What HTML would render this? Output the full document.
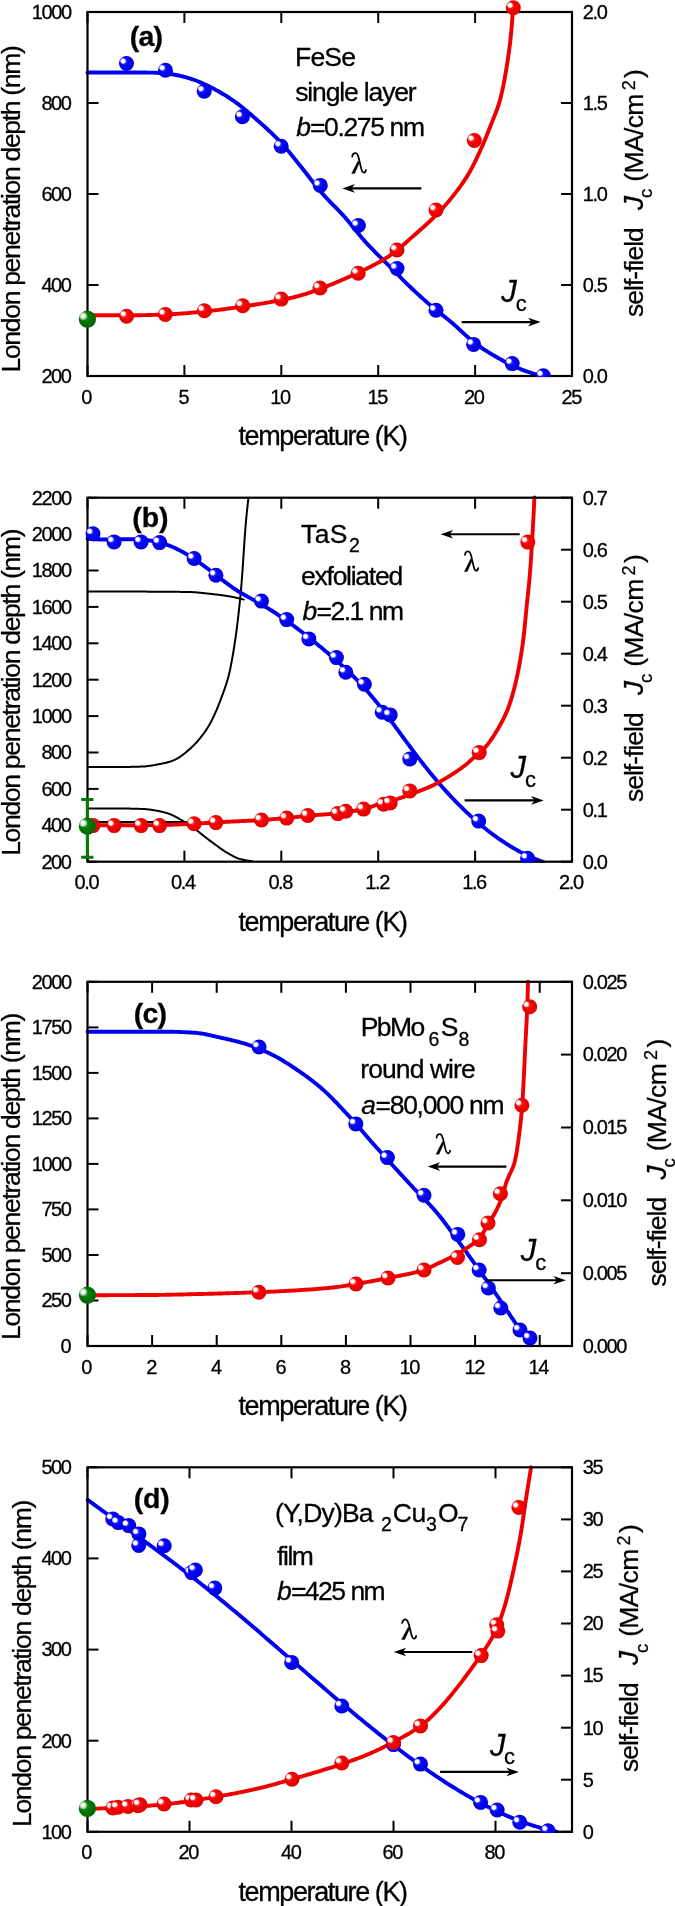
<!DOCTYPE html>
<html><head><meta charset="utf-8"><style>
html,body{margin:0;padding:0;background:#fff;}
svg{display:block;will-change:transform;}
svg text{fill:#000;stroke:#000;stroke-width:0.3px;}
</style></head><body>
<svg width="675" height="1906" viewBox="0 0 675 1906" font-family="Liberation Sans, sans-serif">
<defs>
<radialGradient id="gb" cx="0.5" cy="0.5" r="0.5" fx="0.3" fy="0.33">
 <stop offset="0" stop-color="#5050ff"/><stop offset="0.45" stop-color="#0808f4"/><stop offset="1" stop-color="#0000e0"/></radialGradient>
<radialGradient id="gr" cx="0.5" cy="0.5" r="0.5" fx="0.3" fy="0.33">
 <stop offset="0" stop-color="#ff5050"/><stop offset="0.45" stop-color="#f40808"/><stop offset="1" stop-color="#e20000"/></radialGradient>
<radialGradient id="gg" cx="0.5" cy="0.5" r="0.5" fx="0.3" fy="0.33">
 <stop offset="0" stop-color="#40a040"/><stop offset="0.45" stop-color="#0a780a"/><stop offset="1" stop-color="#006600"/></radialGradient>
<radialGradient id="hlb"><stop offset="0" stop-color="#fff"/><stop offset="0.5" stop-color="#fff"/><stop offset="0.75" stop-color="#fff" stop-opacity="0.55"/><stop offset="1" stop-color="#fff" stop-opacity="0"/></radialGradient>
<radialGradient id="hlr"><stop offset="0" stop-color="#fff"/><stop offset="0.5" stop-color="#fff"/><stop offset="0.75" stop-color="#fff" stop-opacity="0.55"/><stop offset="1" stop-color="#fff" stop-opacity="0"/></radialGradient>
<radialGradient id="hlg"><stop offset="0" stop-color="#fff"/><stop offset="0.35" stop-color="#f4fff4"/><stop offset="0.7" stop-color="#c8e8c8" stop-opacity="0.7"/><stop offset="1" stop-color="#fff" stop-opacity="0"/></radialGradient>
</defs>
<defs><clipPath id="cla"><rect x="-10" y="-28" width="700" height="405.1"/></clipPath></defs>
<g clip-path="url(#cla)">
<path d="M87.50,72.50 L88.93,72.50 L90.36,72.50 L91.78,72.50 L93.21,72.50 L94.64,72.50 L96.07,72.50 L97.49,72.50 L98.92,72.50 L100.35,72.50 L101.78,72.50 L103.21,72.50 L104.63,72.50 L106.06,72.50 L107.49,72.50 L108.92,72.50 L110.34,72.50 L111.77,72.50 L113.20,72.50 L114.63,72.50 L116.05,72.50 L117.48,72.50 L118.91,72.50 L120.34,72.50 L121.77,72.50 L123.19,72.50 L124.62,72.50 L126.05,72.50 L127.48,72.50 L128.90,72.50 L130.33,72.50 L131.76,72.50 L133.19,72.50 L134.62,72.51 L136.04,72.51 L137.47,72.51 L138.90,72.52 L140.33,72.53 L141.76,72.54 L143.18,72.54 L144.61,72.55 L146.04,72.57 L147.47,72.58 L148.89,72.59 L150.32,72.60 L151.75,72.63 L153.18,72.67 L154.60,72.72 L156.03,72.78 L157.46,72.85 L158.89,72.93 L160.31,73.02 L161.73,73.11 L163.16,73.21 L164.58,73.33 L166.00,73.47 L167.42,73.64 L168.84,73.82 L170.25,74.03 L171.67,74.25 L173.08,74.48 L174.48,74.71 L175.88,74.96 L177.28,75.22 L178.68,75.51 L180.08,75.82 L181.48,76.15 L182.87,76.49 L184.26,76.85 L185.64,77.23 L187.01,77.61 L188.38,78.01 L189.74,78.42 L191.10,78.84 L192.45,79.29 L193.79,79.77 L195.13,80.26 L196.47,80.78 L197.80,81.31 L199.13,81.86 L200.45,82.42 L201.76,82.99 L203.07,83.58 L204.37,84.17 L205.66,84.78 L206.95,85.38 L208.23,85.99 L209.51,86.62 L210.78,87.25 L212.05,87.90 L213.32,88.56 L214.58,89.23 L215.84,89.91 L217.10,90.60 L218.35,91.31 L219.60,92.02 L220.84,92.74 L222.08,93.47 L223.31,94.21 L224.53,94.95 L225.75,95.71 L226.96,96.47 L228.17,97.24 L229.36,98.01 L230.56,98.79 L231.74,99.58 L232.91,100.37 L234.08,101.17 L235.24,101.99 L236.39,102.82 L237.54,103.67 L238.67,104.53 L239.80,105.40 L240.93,106.28 L242.05,107.17 L243.16,108.07 L244.27,108.97 L245.38,109.89 L246.48,110.81 L247.57,111.73 L248.66,112.66 L249.75,113.60 L250.84,114.53 L251.92,115.47 L253.00,116.41 L254.08,117.35 L255.15,118.28 L256.22,119.22 L257.30,120.16 L258.37,121.10 L259.44,122.05 L260.51,122.99 L261.58,123.94 L262.64,124.90 L263.71,125.86 L264.77,126.82 L265.82,127.79 L266.88,128.76 L267.93,129.73 L268.97,130.71 L270.02,131.69 L271.05,132.67 L272.08,133.66 L273.11,134.66 L274.13,135.66 L275.15,136.66 L276.16,137.67 L277.16,138.68 L278.16,139.70 L279.15,140.73 L280.13,141.75 L281.10,142.79 L282.07,143.83 L283.03,144.88 L283.97,145.94 L284.91,147.01 L285.85,148.09 L286.77,149.18 L287.69,150.27 L288.60,151.37 L289.51,152.47 L290.42,153.58 L291.32,154.69 L292.22,155.80 L293.11,156.92 L294.01,158.04 L294.90,159.15 L295.79,160.27 L296.69,161.39 L297.58,162.51 L298.48,163.62 L299.37,164.73 L300.28,165.84 L301.17,166.95 L302.07,168.06 L302.96,169.18 L303.84,170.30 L304.72,171.43 L305.60,172.55 L306.48,173.68 L307.36,174.81 L308.23,175.94 L309.11,177.07 L309.99,178.20 L310.86,179.33 L311.74,180.46 L312.62,181.58 L313.50,182.71 L314.39,183.83 L315.27,184.95 L316.17,186.06 L317.06,187.17 L317.96,188.28 L318.87,189.38 L319.78,190.47 L320.70,191.56 L321.63,192.64 L322.56,193.72 L323.51,194.78 L324.46,195.84 L325.43,196.89 L326.40,197.93 L327.38,198.97 L328.36,200.00 L329.36,201.03 L330.35,202.06 L331.35,203.08 L332.35,204.10 L333.35,205.12 L334.36,206.14 L335.36,207.16 L336.36,208.18 L337.36,209.20 L338.35,210.23 L339.35,211.26 L340.33,212.29 L341.31,213.33 L342.29,214.37 L343.25,215.43 L344.21,216.48 L345.15,217.55 L346.09,218.62 L347.02,219.71 L347.95,220.79 L348.87,221.89 L349.78,222.99 L350.69,224.09 L351.59,225.19 L352.49,226.30 L353.39,227.41 L354.29,228.53 L355.19,229.64 L356.09,230.75 L356.99,231.86 L357.89,232.97 L358.79,234.08 L359.70,235.18 L360.61,236.28 L361.53,237.38 L362.45,238.47 L363.38,239.55 L364.31,240.63 L365.25,241.70 L366.21,242.76 L367.17,243.81 L368.14,244.85 L369.11,245.89 L370.09,246.92 L371.08,247.95 L372.08,248.97 L373.08,249.99 L374.09,251.00 L375.10,252.01 L376.11,253.02 L377.12,254.02 L378.14,255.03 L379.16,256.03 L380.19,257.03 L381.21,258.03 L382.23,259.02 L383.25,260.02 L384.27,261.02 L385.29,262.02 L386.31,263.03 L387.33,264.03 L388.34,265.04 L389.35,266.05 L390.36,267.06 L391.36,268.08 L392.36,269.09 L393.37,270.11 L394.37,271.13 L395.37,272.15 L396.37,273.17 L397.37,274.19 L398.37,275.20 L399.38,276.22 L400.38,277.24 L401.38,278.25 L402.39,279.27 L403.40,280.28 L404.41,281.29 L405.42,282.29 L406.44,283.29 L407.46,284.29 L408.48,285.29 L409.51,286.28 L410.54,287.27 L411.57,288.25 L412.61,289.23 L413.65,290.21 L414.69,291.18 L415.73,292.16 L416.78,293.13 L417.83,294.10 L418.88,295.07 L419.93,296.03 L420.99,296.99 L422.05,297.95 L423.11,298.91 L424.17,299.86 L425.24,300.82 L426.31,301.76 L427.38,302.71 L428.46,303.65 L429.53,304.58 L430.62,305.51 L431.70,306.44 L432.79,307.37 L433.88,308.28 L434.98,309.19 L436.08,310.09 L437.20,310.99 L438.32,311.87 L439.44,312.75 L440.56,313.63 L441.69,314.51 L442.82,315.39 L443.95,316.26 L445.07,317.14 L446.20,318.03 L447.32,318.92 L448.43,319.81 L449.53,320.71 L450.63,321.63 L451.72,322.55 L452.80,323.49 L453.87,324.43 L454.94,325.38 L456.01,326.34 L457.07,327.31 L458.12,328.28 L459.18,329.25 L460.23,330.22 L461.28,331.20 L462.33,332.17 L463.39,333.15 L464.44,334.12 L465.50,335.08 L466.56,336.04 L467.63,336.99 L468.70,337.93 L469.78,338.87 L470.86,339.79 L471.95,340.70 L473.06,341.60 L474.17,342.48 L475.29,343.35 L476.42,344.19 L477.56,345.03 L478.72,345.85 L479.88,346.67 L481.06,347.47 L482.24,348.27 L483.43,349.06 L484.63,349.84 L485.83,350.61 L487.04,351.37 L488.26,352.13 L489.48,352.88 L490.71,353.62 L491.94,354.36 L493.17,355.09 L494.41,355.81 L495.65,356.53 L496.89,357.24 L498.13,357.95 L499.37,358.65 L500.62,359.34 L501.86,360.04 L503.11,360.73 L504.37,361.41 L505.63,362.09 L506.89,362.76 L508.16,363.42 L509.44,364.08 L510.72,364.72 L512.00,365.35 L513.29,365.96 L514.58,366.56 L515.88,367.14 L517.19,367.71 L518.50,368.26 L519.82,368.80 L521.15,369.32 L522.48,369.83 L523.82,370.33 L525.17,370.82 L526.51,371.30 L527.86,371.77 L529.22,372.24 L530.57,372.69 L531.92,373.14 L533.28,373.57 L534.64,374.00 L536.01,374.42 L537.38,374.83 L538.75,375.23 L540.12,375.62 L541.50,376.00" fill="none" stroke="#0000f0" stroke-width="3.9" stroke-linejoin="round" stroke-linecap="round"/>
<path d="M87.50,315.30 L88.99,315.30 L90.49,315.30 L91.98,315.30 L93.48,315.30 L94.97,315.30 L96.46,315.30 L97.96,315.30 L99.45,315.30 L100.94,315.30 L102.44,315.30 L103.93,315.30 L105.42,315.30 L106.92,315.30 L108.41,315.30 L109.91,315.30 L111.40,315.30 L112.89,315.30 L114.39,315.30 L115.88,315.30 L117.37,315.30 L118.87,315.30 L120.36,315.30 L121.85,315.30 L123.35,315.30 L124.84,315.30 L126.33,315.30 L127.83,315.30 L129.32,315.30 L130.81,315.30 L132.31,315.29 L133.80,315.29 L135.29,315.27 L136.79,315.26 L138.28,315.24 L139.78,315.22 L141.27,315.19 L142.76,315.16 L144.26,315.13 L145.75,315.10 L147.25,315.06 L148.74,315.02 L150.23,314.98 L151.73,314.94 L153.22,314.89 L154.71,314.85 L156.20,314.80 L157.70,314.75 L159.19,314.70 L160.68,314.65 L162.17,314.60 L163.67,314.55 L165.16,314.49 L166.65,314.44 L168.14,314.38 L169.63,314.31 L171.12,314.23 L172.61,314.15 L174.10,314.06 L175.60,313.97 L177.09,313.87 L178.58,313.77 L180.07,313.66 L181.56,313.55 L183.05,313.44 L184.54,313.32 L186.03,313.19 L187.52,313.07 L189.01,312.94 L190.50,312.81 L191.98,312.67 L193.47,312.54 L194.96,312.40 L196.45,312.26 L197.93,312.12 L199.42,311.98 L200.91,311.84 L202.39,311.69 L203.88,311.55 L205.36,311.41 L206.85,311.26 L208.33,311.10 L209.82,310.94 L211.30,310.77 L212.79,310.60 L214.27,310.43 L215.75,310.25 L217.23,310.07 L218.72,309.88 L220.20,309.69 L221.68,309.49 L223.16,309.30 L224.64,309.10 L226.12,308.89 L227.60,308.69 L229.08,308.48 L230.56,308.27 L232.04,308.06 L233.52,307.84 L235.00,307.63 L236.48,307.41 L237.96,307.20 L239.43,306.98 L240.91,306.76 L242.39,306.55 L243.87,306.33 L245.34,306.11 L246.82,305.89 L248.30,305.67 L249.77,305.44 L251.25,305.22 L252.73,304.99 L254.20,304.76 L255.68,304.53 L257.16,304.29 L258.63,304.06 L260.11,303.82 L261.58,303.57 L263.06,303.33 L264.53,303.08 L266.01,302.83 L267.48,302.58 L268.95,302.32 L270.42,302.06 L271.89,301.79 L273.36,301.52 L274.83,301.25 L276.29,300.98 L277.76,300.70 L279.22,300.41 L280.69,300.12 L282.15,299.83 L283.61,299.53 L285.08,299.22 L286.54,298.91 L288.00,298.59 L289.46,298.26 L290.92,297.93 L292.38,297.58 L293.83,297.23 L295.28,296.86 L296.72,296.49 L298.16,296.11 L299.60,295.71 L301.03,295.31 L302.45,294.89 L303.88,294.46 L305.30,294.03 L306.72,293.58 L308.14,293.12 L309.56,292.66 L310.98,292.18 L312.39,291.70 L313.80,291.20 L315.21,290.70 L316.62,290.19 L318.03,289.68 L319.43,289.15 L320.84,288.63 L322.24,288.09 L323.63,287.55 L325.03,287.00 L326.42,286.45 L327.81,285.89 L329.20,285.32 L330.59,284.76 L331.98,284.19 L333.36,283.61 L334.74,283.03 L336.12,282.45 L337.50,281.87 L338.87,281.28 L340.24,280.70 L341.61,280.11 L342.98,279.52 L344.34,278.92 L345.71,278.33 L347.07,277.73 L348.44,277.13 L349.81,276.53 L351.18,275.92 L352.55,275.31 L353.92,274.70 L355.29,274.08 L356.66,273.45 L358.03,272.83 L359.39,272.19 L360.76,271.55 L362.12,270.91 L363.48,270.26 L364.84,269.60 L366.19,268.94 L367.54,268.27 L368.88,267.60 L370.22,266.92 L371.56,266.23 L372.89,265.54 L374.21,264.84 L375.53,264.13 L376.84,263.41 L378.15,262.69 L379.45,261.95 L380.74,261.21 L382.02,260.47 L383.29,259.71 L384.56,258.94 L385.82,258.17 L387.06,257.38 L388.30,256.59 L389.53,255.79 L390.74,254.96 L391.95,254.11 L393.14,253.23 L394.32,252.34 L395.50,251.43 L396.67,250.50 L397.83,249.56 L398.98,248.61 L400.12,247.64 L401.27,246.66 L402.40,245.67 L403.53,244.68 L404.66,243.68 L405.79,242.68 L406.91,241.68 L408.03,240.67 L409.15,239.67 L410.27,238.67 L411.39,237.67 L412.52,236.68 L413.64,235.70 L414.77,234.72 L415.90,233.74 L417.02,232.76 L418.15,231.78 L419.27,230.79 L420.40,229.80 L421.52,228.81 L422.64,227.82 L423.76,226.82 L424.87,225.82 L425.98,224.82 L427.08,223.81 L428.18,222.79 L429.27,221.77 L430.36,220.75 L431.44,219.72 L432.51,218.68 L433.57,217.64 L434.63,216.59 L435.67,215.53 L436.71,214.46 L437.75,213.39 L438.78,212.31 L439.80,211.22 L440.83,210.13 L441.84,209.03 L442.85,207.93 L443.86,206.81 L444.85,205.70 L445.84,204.57 L446.83,203.44 L447.80,202.31 L448.77,201.17 L449.73,200.02 L450.68,198.87 L451.62,197.71 L452.55,196.55 L453.47,195.38 L454.39,194.21 L455.30,193.03 L456.21,191.84 L457.12,190.65 L458.02,189.46 L458.91,188.25 L459.80,187.04 L460.68,185.83 L461.55,184.61 L462.41,183.38 L463.27,182.15 L464.11,180.91 L464.94,179.66 L465.75,178.41 L466.55,177.15 L467.34,175.89 L468.12,174.62 L468.87,173.34 L469.62,172.06 L470.35,170.77 L471.06,169.46 L471.77,168.15 L472.47,166.83 L473.15,165.50 L473.83,164.16 L474.49,162.82 L475.15,161.48 L475.81,160.13 L476.45,158.77 L477.09,157.42 L477.72,156.06 L478.35,154.70 L478.98,153.34 L479.60,151.99 L480.21,150.63 L480.83,149.27 L481.44,147.91 L482.04,146.54 L482.64,145.17 L483.23,143.80 L483.81,142.43 L484.40,141.05 L484.98,139.67 L485.55,138.29 L486.12,136.91 L486.68,135.53 L487.25,134.14 L487.81,132.75 L488.36,131.37 L488.91,129.98 L489.46,128.59 L490.01,127.20 L490.55,125.81 L491.09,124.42 L491.64,123.03 L492.19,121.63 L492.74,120.24 L493.30,118.85 L493.86,117.46 L494.42,116.07 L494.97,114.67 L495.52,113.28 L496.06,111.88 L496.59,110.48 L497.11,109.07 L497.61,107.67 L498.10,106.26 L498.57,104.84 L499.02,103.42 L499.44,102.00 L499.85,100.57 L500.22,99.14 L500.59,97.70 L500.95,96.26 L501.30,94.82 L501.64,93.37 L501.98,91.91 L502.30,90.46 L502.62,89.00 L502.93,87.53 L503.24,86.07 L503.53,84.60 L503.82,83.13 L504.11,81.66 L504.39,80.19 L504.66,78.71 L504.93,77.24 L505.19,75.76 L505.44,74.29 L505.70,72.81 L505.95,71.33 L506.19,69.86 L506.43,68.38 L506.67,66.91 L506.90,65.44 L507.13,63.96 L507.36,62.49 L507.59,61.01 L507.81,59.54 L508.03,58.06 L508.25,56.58 L508.46,55.10 L508.67,53.62 L508.88,52.14 L509.08,50.66 L509.28,49.18 L509.48,47.70 L509.67,46.21 L509.85,44.73 L510.03,43.25 L510.21,41.76 L510.38,40.28 L510.54,38.79 L510.70,37.31 L510.85,35.82 L511.00,34.34 L511.14,32.85 L511.28,31.37 L511.41,29.88 L511.54,28.39 L511.67,26.91 L511.79,25.42 L511.91,23.93 L512.02,22.44 L512.13,20.95 L512.24,19.46 L512.34,17.97 L512.44,16.48 L512.53,14.98 L512.62,13.49 L512.70,12.00" fill="none" stroke="#ee0000" stroke-width="3.9" stroke-linejoin="round" stroke-linecap="round"/>
</g>
<line x1="87.5" y1="376" x2="87.5" y2="365" stroke="#000" stroke-width="2.0"/>
<line x1="87.5" y1="12" x2="87.5" y2="23" stroke="#000" stroke-width="2.0"/>
<line x1="184.4" y1="376" x2="184.4" y2="365" stroke="#000" stroke-width="2.0"/>
<line x1="184.4" y1="12" x2="184.4" y2="23" stroke="#000" stroke-width="2.0"/>
<line x1="281.3" y1="376" x2="281.3" y2="365" stroke="#000" stroke-width="2.0"/>
<line x1="281.3" y1="12" x2="281.3" y2="23" stroke="#000" stroke-width="2.0"/>
<line x1="378.2" y1="376" x2="378.2" y2="365" stroke="#000" stroke-width="2.0"/>
<line x1="378.2" y1="12" x2="378.2" y2="23" stroke="#000" stroke-width="2.0"/>
<line x1="475.1" y1="376" x2="475.1" y2="365" stroke="#000" stroke-width="2.0"/>
<line x1="475.1" y1="12" x2="475.1" y2="23" stroke="#000" stroke-width="2.0"/>
<line x1="572.0" y1="376" x2="572.0" y2="365" stroke="#000" stroke-width="2.0"/>
<line x1="572.0" y1="12" x2="572.0" y2="23" stroke="#000" stroke-width="2.0"/>
<line x1="87.5" y1="376.0" x2="98.5" y2="376.0" stroke="#000" stroke-width="2.0"/>
<line x1="87.5" y1="285.0" x2="98.5" y2="285.0" stroke="#000" stroke-width="2.0"/>
<line x1="87.5" y1="194.0" x2="98.5" y2="194.0" stroke="#000" stroke-width="2.0"/>
<line x1="87.5" y1="103.0" x2="98.5" y2="103.0" stroke="#000" stroke-width="2.0"/>
<line x1="87.5" y1="12.0" x2="98.5" y2="12.0" stroke="#000" stroke-width="2.0"/>
<line x1="572.0" y1="376.0" x2="561.0" y2="376.0" stroke="#000" stroke-width="2.0"/>
<line x1="572.0" y1="285.0" x2="561.0" y2="285.0" stroke="#000" stroke-width="2.0"/>
<line x1="572.0" y1="194.0" x2="561.0" y2="194.0" stroke="#000" stroke-width="2.0"/>
<line x1="572.0" y1="103.0" x2="561.0" y2="103.0" stroke="#000" stroke-width="2.0"/>
<line x1="572.0" y1="12.0" x2="561.0" y2="12.0" stroke="#000" stroke-width="2.0"/>
<rect x="87.5" y="12" width="484.5" height="364" fill="none" stroke="#000" stroke-width="2.2"/>
<g clip-path="url(#cla)">
<circle cx="126.5" cy="63.5" r="7.5" fill="url(#gb)"/>
<circle cx="123.1" cy="61.0" r="3.4" fill="url(#hlb)"/>
<circle cx="165.5" cy="70.2" r="7.5" fill="url(#gb)"/>
<circle cx="162.1" cy="67.7" r="3.4" fill="url(#hlb)"/>
<circle cx="204.2" cy="91.2" r="7.5" fill="url(#gb)"/>
<circle cx="200.8" cy="88.7" r="3.4" fill="url(#hlb)"/>
<circle cx="242.4" cy="116.8" r="7.5" fill="url(#gb)"/>
<circle cx="239.0" cy="114.3" r="3.4" fill="url(#hlb)"/>
<circle cx="281.2" cy="146.2" r="7.5" fill="url(#gb)"/>
<circle cx="277.8" cy="143.7" r="3.4" fill="url(#hlb)"/>
<circle cx="320.3" cy="185.4" r="7.5" fill="url(#gb)"/>
<circle cx="316.9" cy="182.9" r="3.4" fill="url(#hlb)"/>
<circle cx="358.4" cy="225.5" r="7.5" fill="url(#gb)"/>
<circle cx="355.0" cy="223.0" r="3.4" fill="url(#hlb)"/>
<circle cx="397.0" cy="268.5" r="7.5" fill="url(#gb)"/>
<circle cx="393.6" cy="266.0" r="3.4" fill="url(#hlb)"/>
<circle cx="436.0" cy="310.3" r="7.5" fill="url(#gb)"/>
<circle cx="432.6" cy="307.8" r="3.4" fill="url(#hlb)"/>
<circle cx="473.6" cy="344.4" r="7.5" fill="url(#gb)"/>
<circle cx="470.2" cy="341.9" r="3.4" fill="url(#hlb)"/>
<circle cx="512.2" cy="363.6" r="7.5" fill="url(#gb)"/>
<circle cx="508.8" cy="361.1" r="3.4" fill="url(#hlb)"/>
<circle cx="543.3" cy="375.7" r="7.5" fill="url(#gb)"/>
<circle cx="539.9" cy="373.2" r="3.4" fill="url(#hlb)"/>
<circle cx="126.6" cy="316.2" r="7.5" fill="url(#gr)"/>
<circle cx="123.2" cy="313.7" r="3.4" fill="url(#hlr)"/>
<circle cx="165.3" cy="314.4" r="7.5" fill="url(#gr)"/>
<circle cx="161.9" cy="311.9" r="3.4" fill="url(#hlr)"/>
<circle cx="204.4" cy="310.7" r="7.5" fill="url(#gr)"/>
<circle cx="201.0" cy="308.2" r="3.4" fill="url(#hlr)"/>
<circle cx="242.7" cy="305.8" r="7.5" fill="url(#gr)"/>
<circle cx="239.3" cy="303.3" r="3.4" fill="url(#hlr)"/>
<circle cx="281.3" cy="299.1" r="7.5" fill="url(#gr)"/>
<circle cx="277.9" cy="296.6" r="3.4" fill="url(#hlr)"/>
<circle cx="320.0" cy="288.0" r="7.5" fill="url(#gr)"/>
<circle cx="316.6" cy="285.5" r="3.4" fill="url(#hlr)"/>
<circle cx="358.2" cy="273.3" r="7.5" fill="url(#gr)"/>
<circle cx="354.8" cy="270.8" r="3.4" fill="url(#hlr)"/>
<circle cx="397.0" cy="250.0" r="7.5" fill="url(#gr)"/>
<circle cx="393.6" cy="247.5" r="3.4" fill="url(#hlr)"/>
<circle cx="436.0" cy="210.0" r="7.5" fill="url(#gr)"/>
<circle cx="432.6" cy="207.5" r="3.4" fill="url(#hlr)"/>
<circle cx="474.3" cy="140.5" r="7.5" fill="url(#gr)"/>
<circle cx="470.9" cy="138.0" r="3.4" fill="url(#hlr)"/>
<circle cx="513.3" cy="7.7" r="7.5" fill="url(#gr)"/>
<circle cx="509.9" cy="5.2" r="3.4" fill="url(#hlr)"/>
<circle cx="87.4" cy="319.2" r="8.6" fill="url(#gg)"/>
<circle cx="83.1" cy="316.0" r="4.6" fill="url(#hlg)"/>
</g>
<text x="81.20" y="403.5" font-size="20">0</text>
<text x="178.60" y="403.5" font-size="20">5</text>
<text x="270.20" y="403.5" font-size="20" textLength="20.85" lengthAdjust="spacing">10</text>
<text x="367.60" y="403.5" font-size="20" textLength="20.85" lengthAdjust="spacing">15</text>
<text x="464.00" y="403.5" font-size="20" textLength="20.85" lengthAdjust="spacing">20</text>
<text x="561.40" y="403.5" font-size="20" textLength="20.85" lengthAdjust="spacing">25</text>
<text x="41.40" y="382.8" font-size="20" textLength="30.57" lengthAdjust="spacing">200</text>
<text x="41.40" y="291.8" font-size="20" textLength="30.57" lengthAdjust="spacing">400</text>
<text x="41.40" y="200.8" font-size="20" textLength="30.57" lengthAdjust="spacing">600</text>
<text x="41.40" y="109.8" font-size="20" textLength="30.57" lengthAdjust="spacing">800</text>
<text x="31.80" y="18.8" font-size="20" textLength="40.30" lengthAdjust="spacing">1000</text>
<text x="582.80" y="382.8" font-size="20" textLength="25.01" lengthAdjust="spacing">0.0</text>
<text x="582.80" y="291.8" font-size="20" textLength="25.01" lengthAdjust="spacing">0.5</text>
<text x="582.80" y="200.8" font-size="20" textLength="25.01" lengthAdjust="spacing">1.0</text>
<text x="582.80" y="109.8" font-size="20" textLength="25.01" lengthAdjust="spacing">1.5</text>
<text x="582.80" y="18.8" font-size="20" textLength="25.01" lengthAdjust="spacing">2.0</text>
<text x="129.70" y="45.5" font-size="28.5" font-weight="bold" textLength="33.34" lengthAdjust="spacing">(a)</text>
<text x="295.10" y="66.4" font-size="26.5" textLength="60.84" lengthAdjust="spacing">FeSe</text>
<text x="295.20" y="101.3" font-size="26.5" textLength="121.45" lengthAdjust="spacing">single layer</text>
<text x="296.20" y="136.2" font-size="26.5" font-style="italic">b</text>
<text x="310.00" y="136.2" font-size="26.5" textLength="114.97" lengthAdjust="spacing">=0.275 nm</text>
<g transform="translate(351.3,152.7) scale(1.0000,1.0000)"><path d="M0.9,4.0 C1.2,0.9 3.3,-0.1 4.9,0.6 C6.4,1.3 7.0,3.4 7.6,6.0 L9.5,14.2 C10.3,18.0 11.2,20.0 12.6,20.0 C13.6,20.0 14.3,18.8 14.6,17.3" fill="none" stroke="#000" stroke-width="1.75" stroke-linecap="round"/><path d="M6.9,8.0 L8.2,9.9 L3.3,20.9 L0.3,20.9 Z" fill="#000" stroke="#000" stroke-width="0.4" stroke-linejoin="round"/></g>
<line x1="421.3" y1="188.4" x2="348.4" y2="188.4" stroke="#000" stroke-width="2.1"/>
<path d="M342.4,188.4 L354.9,184.1 L351.4,188.4 L354.9,192.70000000000002 Z" fill="#000"/>
<text x="501.20" y="301.9" font-size="31" font-style="italic">J</text>
<text x="515.80" y="310.7" font-size="22">c</text>
<line x1="461.7" y1="322.1" x2="534.6" y2="322.1" stroke="#000" stroke-width="2.1"/>
<path d="M540.6,322.1 L528.1,317.8 L531.6,322.1 L528.1,326.40000000000003 Z" fill="#000"/>
<g transform="translate(19.5,370.5) rotate(-90)"><text x="-2.00" y="0" font-size="26.5" textLength="327.41" lengthAdjust="spacing">London penetration depth (nm)</text></g>
<g transform="translate(643,316) rotate(-90)"><text x="-1.00" y="0" font-size="26.5" textLength="89.89" lengthAdjust="spacing">self-field</text></g>
<g transform="translate(643,316) rotate(-90)"><text x="106.00" y="0" font-size="28" font-style="italic">J</text></g>
<g transform="translate(643,316) rotate(-90)"><text x="118.00" y="9.2" font-size="18.5">c</text></g>
<g transform="translate(643,316) rotate(-90)"><text x="134.30" y="0" font-size="26.5" textLength="88.07" lengthAdjust="spacing">(MA/cm</text></g>
<g transform="translate(643,316) rotate(-90)"><text x="225.70" y="-8.4" font-size="18">2</text></g>
<g transform="translate(643,316) rotate(-90)"><text x="238.10" y="0" font-size="26.5">)</text></g>
<text x="238.50" y="445.0" font-size="27" textLength="169.58" lengthAdjust="spacing">temperature (K)</text>
<defs><clipPath id="cb"><rect x="87.5" y="497.7" width="484.5" height="364"/></clipPath></defs>
<path d="M87.50,767.00 L88.43,767.00 L89.35,767.00 L90.28,767.00 L91.21,767.00 L92.14,767.00 L93.06,767.00 L93.99,767.00 L94.92,767.00 L95.84,767.00 L96.77,767.00 L97.70,767.00 L98.62,767.00 L99.55,767.00 L100.48,767.00 L101.41,767.00 L102.33,767.00 L103.26,767.00 L104.19,767.00 L105.11,767.00 L106.04,767.00 L106.97,767.00 L107.89,767.00 L108.82,767.00 L109.75,767.00 L110.68,767.00 L111.60,767.00 L112.53,767.00 L113.46,767.00 L114.38,767.00 L115.31,767.00 L116.24,767.00 L117.16,767.00 L118.09,767.00 L119.02,767.00 L119.94,767.00 L120.87,767.00 L121.80,767.00 L122.73,766.99 L123.65,766.99 L124.58,766.98 L125.51,766.97 L126.44,766.96 L127.37,766.94 L128.30,766.93 L129.23,766.91 L130.15,766.89 L131.08,766.87 L132.01,766.85 L132.94,766.83 L133.87,766.80 L134.79,766.78 L135.72,766.75 L136.65,766.72 L137.57,766.70 L138.50,766.66 L139.42,766.63 L140.35,766.60 L141.27,766.57 L142.19,766.53 L143.11,766.50 L144.04,766.45 L144.96,766.39 L145.88,766.31 L146.80,766.22 L147.72,766.11 L148.64,766.00 L149.56,765.87 L150.48,765.73 L151.40,765.59 L152.32,765.44 L153.24,765.28 L154.15,765.11 L155.07,764.95 L155.98,764.77 L156.90,764.60 L157.81,764.42 L158.72,764.25 L159.63,764.07 L160.53,763.90 L161.45,763.72 L162.36,763.53 L163.28,763.33 L164.20,763.13 L165.12,762.92 L166.04,762.70 L166.95,762.47 L167.85,762.23 L168.75,761.97 L169.63,761.71 L170.51,761.43 L171.37,761.15 L172.21,760.84 L173.04,760.53 L173.87,760.18 L174.69,759.81 L175.51,759.42 L176.32,758.99 L177.13,758.55 L177.93,758.09 L178.73,757.60 L179.52,757.10 L180.31,756.58 L181.09,756.04 L181.87,755.49 L182.63,754.93 L183.40,754.35 L184.15,753.77 L184.90,753.18 L185.63,752.58 L186.37,751.97 L187.09,751.36 L187.80,750.74 L188.51,750.13 L189.20,749.51 L189.89,748.90 L190.57,748.28 L191.24,747.67 L191.90,747.06 L192.56,746.43 L193.22,745.79 L193.87,745.15 L194.52,744.49 L195.16,743.82 L195.80,743.15 L196.44,742.46 L197.07,741.77 L197.69,741.07 L198.31,740.36 L198.92,739.65 L199.53,738.92 L200.13,738.20 L200.72,737.46 L201.31,736.72 L201.89,735.98 L202.46,735.23 L203.02,734.48 L203.58,733.72 L204.13,732.96 L204.66,732.20 L205.19,731.43 L205.71,730.67 L206.22,729.90 L206.72,729.12 L207.21,728.35 L207.69,727.58 L208.16,726.81 L208.62,726.02 L209.08,725.24 L209.53,724.44 L209.98,723.64 L210.42,722.84 L210.86,722.03 L211.29,721.21 L211.72,720.39 L212.14,719.56 L212.55,718.73 L212.96,717.90 L213.37,717.06 L213.77,716.21 L214.17,715.37 L214.56,714.52 L214.95,713.67 L215.33,712.81 L215.71,711.96 L216.08,711.10 L216.45,710.24 L216.82,709.37 L217.18,708.51 L217.54,707.64 L217.90,706.78 L218.25,705.91 L218.59,705.05 L218.94,704.18 L219.28,703.31 L219.61,702.45 L219.95,701.58 L220.28,700.72 L220.60,699.85 L220.93,698.99 L221.25,698.13 L221.58,697.26 L221.90,696.39 L222.22,695.52 L222.54,694.65 L222.86,693.78 L223.18,692.91 L223.50,692.03 L223.81,691.15 L224.12,690.28 L224.43,689.40 L224.74,688.51 L225.04,687.63 L225.34,686.75 L225.63,685.86 L225.93,684.98 L226.21,684.09 L226.50,683.20 L226.77,682.31 L227.05,681.42 L227.32,680.53 L227.58,679.64 L227.84,678.75 L228.09,677.86 L228.33,676.96 L228.57,676.07 L228.80,675.17 L229.03,674.28 L229.25,673.38 L229.46,672.48 L229.66,671.58 L229.86,670.69 L230.04,669.79 L230.23,668.89 L230.41,667.99 L230.59,667.09 L230.77,666.19 L230.94,665.28 L231.12,664.38 L231.29,663.48 L231.46,662.57 L231.63,661.67 L231.80,660.76 L231.97,659.85 L232.13,658.94 L232.30,658.04 L232.46,657.13 L232.62,656.22 L232.78,655.31 L232.93,654.40 L233.09,653.48 L233.24,652.57 L233.39,651.66 L233.54,650.75 L233.69,649.83 L233.84,648.92 L233.99,648.00 L234.13,647.09 L234.28,646.17 L234.42,645.25 L234.56,644.34 L234.70,643.42 L234.84,642.50 L234.97,641.58 L235.11,640.66 L235.24,639.74 L235.38,638.82 L235.51,637.90 L235.64,636.98 L235.77,636.06 L235.89,635.14 L236.02,634.22 L236.15,633.30 L236.27,632.38 L236.39,631.45 L236.52,630.53 L236.64,629.61 L236.76,628.69 L236.88,627.76 L236.99,626.84 L237.11,625.92 L237.22,624.99 L237.34,624.07 L237.45,623.14 L237.57,622.22 L237.68,621.29 L237.79,620.37 L237.90,619.45 L238.01,618.52 L238.11,617.60 L238.22,616.67 L238.33,615.75 L238.43,614.82 L238.53,613.90 L238.64,612.97 L238.74,612.05 L238.84,611.12 L238.94,610.20 L239.04,609.27 L239.14,608.35 L239.24,607.42 L239.34,606.50 L239.44,605.58 L239.53,604.65 L239.63,603.73 L239.72,602.80 L239.82,601.88 L239.91,600.96 L240.00,600.03 L240.10,599.11 L240.19,598.19 L240.28,597.27 L240.37,596.34 L240.46,595.42 L240.55,594.50 L240.64,593.58 L240.73,592.66 L240.82,591.74 L240.90,590.81 L240.98,589.89 L241.07,588.97 L241.15,588.05 L241.23,587.12 L241.31,586.20 L241.39,585.28 L241.46,584.36 L241.54,583.43 L241.61,582.51 L241.69,581.59 L241.76,580.66 L241.83,579.74 L241.90,578.81 L241.97,577.89 L242.04,576.97 L242.11,576.04 L242.18,575.12 L242.25,574.19 L242.32,573.27 L242.38,572.34 L242.45,571.42 L242.51,570.49 L242.58,569.57 L242.64,568.64 L242.70,567.72 L242.76,566.79 L242.83,565.87 L242.89,564.94 L242.95,564.02 L243.01,563.09 L243.07,562.17 L243.13,561.24 L243.19,560.32 L243.25,559.39 L243.31,558.47 L243.37,557.54 L243.43,556.61 L243.49,555.69 L243.55,554.76 L243.61,553.84 L243.67,552.91 L243.73,551.99 L243.79,551.06 L243.85,550.13 L243.91,549.21 L243.97,548.28 L244.03,547.36 L244.10,546.43 L244.16,545.51 L244.22,544.58 L244.28,543.66 L244.34,542.73 L244.41,541.81 L244.47,540.88 L244.53,539.95 L244.60,539.03 L244.66,538.10 L244.73,537.18 L244.79,536.25 L244.86,535.33 L244.93,534.40 L245.00,533.48 L245.07,532.55 L245.14,531.63 L245.21,530.71 L245.28,529.78 L245.35,528.86 L245.43,527.93 L245.50,527.01 L245.58,526.09 L245.65,525.16 L245.73,524.24 L245.81,523.31 L245.89,522.39 L245.97,521.47 L246.05,520.54 L246.13,519.62 L246.22,518.70 L246.31,517.78 L246.40,516.85 L246.49,515.93 L246.58,515.01 L246.67,514.09 L246.76,513.17 L246.86,512.24 L246.96,511.32 L247.06,510.40 L247.15,509.48 L247.25,508.56 L247.36,507.63 L247.46,506.71 L247.56,505.79 L247.66,504.87 L247.77,503.95 L247.87,503.03 L247.97,502.11 L248.08,501.18 L248.18,500.26 L248.29,499.34 L248.39,498.42 L248.50,497.50" fill="none" stroke="#000" stroke-width="2.0" stroke-linejoin="round" stroke-linecap="round" clip-path="url(#cb)"/>
<path d="M87.50,808.50 L87.95,808.50 L88.39,808.50 L88.84,808.50 L89.29,808.50 L89.74,808.50 L90.18,808.50 L90.63,808.50 L91.08,808.50 L91.52,808.50 L91.97,808.50 L92.42,808.50 L92.87,808.50 L93.31,808.50 L93.76,808.50 L94.21,808.50 L94.66,808.50 L95.10,808.50 L95.55,808.50 L96.00,808.50 L96.44,808.50 L96.89,808.50 L97.34,808.50 L97.79,808.50 L98.23,808.50 L98.68,808.50 L99.13,808.50 L99.57,808.50 L100.02,808.50 L100.47,808.50 L100.92,808.50 L101.36,808.50 L101.81,808.50 L102.26,808.50 L102.70,808.50 L103.15,808.50 L103.60,808.50 L104.05,808.50 L104.49,808.50 L104.94,808.50 L105.39,808.50 L105.83,808.50 L106.28,808.50 L106.73,808.50 L107.18,808.50 L107.62,808.50 L108.07,808.50 L108.52,808.50 L108.96,808.50 L109.41,808.50 L109.86,808.50 L110.31,808.50 L110.75,808.50 L111.20,808.50 L111.65,808.50 L112.09,808.50 L112.54,808.50 L112.99,808.50 L113.44,808.50 L113.88,808.50 L114.33,808.50 L114.78,808.50 L115.22,808.50 L115.67,808.50 L116.12,808.50 L116.56,808.50 L117.01,808.50 L117.46,808.50 L117.91,808.50 L118.35,808.50 L118.80,808.50 L119.25,808.50 L119.69,808.50 L120.14,808.50 L120.59,808.50 L121.04,808.50 L121.48,808.50 L121.93,808.50 L122.38,808.51 L122.83,808.51 L123.27,808.51 L123.72,808.52 L124.17,808.52 L124.62,808.52 L125.06,808.53 L125.51,808.53 L125.96,808.54 L126.41,808.55 L126.86,808.55 L127.30,808.56 L127.75,808.57 L128.20,808.57 L128.65,808.58 L129.10,808.59 L129.54,808.60 L129.99,808.61 L130.44,808.62 L130.89,808.63 L131.34,808.64 L131.78,808.65 L132.23,808.66 L132.68,808.67 L133.13,808.68 L133.57,808.69 L134.02,808.70 L134.47,808.71 L134.92,808.73 L135.36,808.74 L135.81,808.75 L136.26,808.77 L136.70,808.78 L137.15,808.79 L137.60,808.81 L138.04,808.82 L138.49,808.84 L138.93,808.85 L139.38,808.87 L139.83,808.88 L140.27,808.90 L140.72,808.91 L141.16,808.93 L141.61,808.95 L142.05,808.96 L142.50,808.98 L142.94,809.00 L143.39,809.02 L143.83,809.04 L144.28,809.06 L144.72,809.09 L145.17,809.12 L145.62,809.15 L146.06,809.19 L146.51,809.22 L146.96,809.26 L147.41,809.31 L147.85,809.35 L148.30,809.40 L148.75,809.45 L149.20,809.51 L149.65,809.56 L150.10,809.62 L150.55,809.68 L150.99,809.74 L151.44,809.80 L151.89,809.87 L152.34,809.94 L152.79,810.01 L153.23,810.08 L153.68,810.15 L154.13,810.23 L154.57,810.31 L155.02,810.38 L155.46,810.47 L155.91,810.55 L156.35,810.63 L156.79,810.72 L157.24,810.80 L157.68,810.89 L158.12,810.98 L158.56,811.07 L159.00,811.16 L159.43,811.26 L159.87,811.35 L160.31,811.45 L160.74,811.54 L161.18,811.64 L161.61,811.74 L162.04,811.84 L162.47,811.94 L162.90,812.04 L163.32,812.14 L163.75,812.24 L164.17,812.35 L164.60,812.45 L165.02,812.56 L165.44,812.66 L165.86,812.77 L166.28,812.89 L166.70,813.01 L167.11,813.14 L167.53,813.27 L167.95,813.41 L168.36,813.55 L168.78,813.70 L169.19,813.85 L169.60,814.01 L170.01,814.17 L170.43,814.33 L170.84,814.50 L171.25,814.68 L171.66,814.85 L172.07,815.04 L172.48,815.22 L172.88,815.41 L173.29,815.60 L173.70,815.80 L174.10,816.00 L174.51,816.20 L174.91,816.40 L175.31,816.61 L175.72,816.82 L176.12,817.03 L176.52,817.25 L176.92,817.47 L177.32,817.69 L177.72,817.91 L178.11,818.13 L178.51,818.36 L178.91,818.58 L179.30,818.81 L179.70,819.04 L180.09,819.27 L180.49,819.50 L180.88,819.74 L181.27,819.97 L181.66,820.20 L182.05,820.44 L182.44,820.67 L182.83,820.91 L183.22,821.15 L183.60,821.38 L183.99,821.62 L184.37,821.85 L184.76,822.09 L185.14,822.32 L185.52,822.56 L185.91,822.79 L186.29,823.02 L186.67,823.25 L187.05,823.48 L187.42,823.71 L187.80,823.94 L188.18,824.18 L188.55,824.41 L188.92,824.65 L189.29,824.89 L189.66,825.14 L190.03,825.38 L190.40,825.63 L190.77,825.88 L191.13,826.13 L191.50,826.38 L191.86,826.64 L192.22,826.90 L192.59,827.16 L192.95,827.42 L193.31,827.68 L193.66,827.95 L194.02,828.22 L194.38,828.48 L194.74,828.75 L195.09,829.03 L195.45,829.30 L195.80,829.57 L196.16,829.85 L196.51,830.12 L196.86,830.40 L197.21,830.67 L197.57,830.95 L197.92,831.23 L198.27,831.51 L198.62,831.79 L198.97,832.07 L199.32,832.35 L199.67,832.64 L200.02,832.92 L200.37,833.20 L200.72,833.48 L201.07,833.76 L201.42,834.05 L201.77,834.33 L202.12,834.61 L202.48,834.89 L202.83,835.18 L203.18,835.46 L203.53,835.74 L203.88,836.02 L204.23,836.30 L204.58,836.58 L204.94,836.86 L205.29,837.14 L205.64,837.41 L206.00,837.69 L206.35,837.96 L206.71,838.24 L207.06,838.51 L207.42,838.78 L207.78,839.05 L208.14,839.32 L208.49,839.59 L208.85,839.86 L209.21,840.12 L209.58,840.38 L209.94,840.65 L210.30,840.91 L210.66,841.17 L211.02,841.44 L211.38,841.70 L211.74,841.97 L212.10,842.24 L212.46,842.50 L212.82,842.77 L213.18,843.04 L213.54,843.31 L213.90,843.58 L214.26,843.85 L214.62,844.12 L214.98,844.38 L215.34,844.65 L215.70,844.92 L216.07,845.19 L216.43,845.46 L216.79,845.73 L217.15,845.99 L217.51,846.26 L217.87,846.53 L218.23,846.79 L218.60,847.05 L218.96,847.32 L219.32,847.58 L219.69,847.84 L220.05,848.10 L220.42,848.36 L220.79,848.62 L221.15,848.88 L221.52,849.13 L221.89,849.39 L222.26,849.64 L222.63,849.89 L223.00,850.14 L223.37,850.39 L223.74,850.63 L224.11,850.88 L224.49,851.12 L224.86,851.36 L225.24,851.59 L225.62,851.83 L226.00,852.06 L226.38,852.29 L226.76,852.52 L227.14,852.75 L227.52,852.97 L227.91,853.19 L228.29,853.41 L228.68,853.63 L229.07,853.85 L229.46,854.07 L229.85,854.30 L230.24,854.52 L230.63,854.75 L231.02,854.97 L231.42,855.20 L231.81,855.42 L232.21,855.64 L232.61,855.86 L233.01,856.08 L233.41,856.29 L233.81,856.51 L234.22,856.71 L234.62,856.92 L235.03,857.12 L235.43,857.31 L235.84,857.50 L236.25,857.68 L236.66,857.86 L237.07,858.03 L237.49,858.19 L237.90,858.35 L238.32,858.50 L238.74,858.64 L239.15,858.77 L239.57,858.89 L239.99,859.00 L240.42,859.10 L240.84,859.21 L241.27,859.31 L241.69,859.42 L242.12,859.52 L242.55,859.62 L242.98,859.72 L243.41,859.81 L243.85,859.91 L244.28,860.00 L244.72,860.09 L245.16,860.18 L245.60,860.26 L246.04,860.34 L246.48,860.42 L246.93,860.49 L247.37,860.56 L247.82,860.62 L248.27,860.69 L248.72,860.74 L249.17,860.80 L249.62,860.84 L250.07,860.88 L250.53,860.92 L250.98,860.95 L251.44,860.98 L251.90,861.00" fill="none" stroke="#000" stroke-width="2.0" stroke-linejoin="round" stroke-linecap="round" clip-path="url(#cb)"/>
<path d="M87.50,591.50 L87.89,591.50 L88.29,591.50 L88.68,591.50 L89.07,591.50 L89.47,591.50 L89.86,591.50 L90.25,591.50 L90.65,591.50 L91.04,591.50 L91.43,591.50 L91.83,591.50 L92.22,591.50 L92.61,591.50 L93.01,591.50 L93.40,591.50 L93.79,591.50 L94.19,591.50 L94.58,591.50 L94.97,591.50 L95.37,591.50 L95.76,591.50 L96.15,591.50 L96.54,591.50 L96.94,591.50 L97.33,591.50 L97.72,591.50 L98.12,591.51 L98.51,591.51 L98.90,591.51 L99.30,591.51 L99.69,591.51 L100.08,591.51 L100.48,591.51 L100.87,591.51 L101.26,591.51 L101.66,591.51 L102.05,591.51 L102.44,591.51 L102.84,591.51 L103.23,591.51 L103.62,591.51 L104.02,591.51 L104.41,591.51 L104.80,591.51 L105.20,591.51 L105.59,591.51 L105.98,591.52 L106.38,591.52 L106.77,591.52 L107.16,591.52 L107.56,591.52 L107.95,591.52 L108.34,591.52 L108.74,591.52 L109.13,591.52 L109.52,591.52 L109.92,591.52 L110.31,591.52 L110.70,591.52 L111.09,591.52 L111.49,591.53 L111.88,591.53 L112.27,591.53 L112.67,591.53 L113.06,591.53 L113.45,591.53 L113.85,591.53 L114.24,591.53 L114.63,591.53 L115.03,591.53 L115.42,591.53 L115.81,591.53 L116.21,591.53 L116.60,591.54 L116.99,591.54 L117.39,591.54 L117.78,591.54 L118.17,591.54 L118.57,591.54 L118.96,591.54 L119.35,591.54 L119.75,591.54 L120.14,591.54 L120.53,591.54 L120.93,591.55 L121.32,591.55 L121.71,591.55 L122.11,591.55 L122.50,591.55 L122.89,591.55 L123.29,591.55 L123.68,591.55 L124.07,591.55 L124.47,591.55 L124.86,591.56 L125.25,591.56 L125.65,591.56 L126.04,591.56 L126.43,591.56 L126.82,591.56 L127.22,591.56 L127.61,591.56 L128.00,591.56 L128.40,591.57 L128.79,591.57 L129.18,591.57 L129.58,591.57 L129.97,591.57 L130.36,591.57 L130.76,591.57 L131.15,591.57 L131.54,591.57 L131.94,591.58 L132.33,591.58 L132.72,591.58 L133.12,591.58 L133.51,591.58 L133.90,591.58 L134.30,591.58 L134.69,591.58 L135.08,591.58 L135.48,591.59 L135.87,591.59 L136.26,591.59 L136.66,591.59 L137.05,591.59 L137.44,591.59 L137.84,591.59 L138.23,591.59 L138.62,591.60 L139.02,591.60 L139.41,591.60 L139.80,591.60 L140.19,591.60 L140.59,591.60 L140.98,591.60 L141.37,591.60 L141.77,591.61 L142.16,591.61 L142.55,591.61 L142.95,591.61 L143.34,591.61 L143.73,591.61 L144.13,591.61 L144.52,591.61 L144.91,591.62 L145.31,591.62 L145.70,591.62 L146.09,591.62 L146.49,591.62 L146.88,591.62 L147.28,591.63 L147.67,591.63 L148.06,591.63 L148.46,591.63 L148.85,591.63 L149.24,591.63 L149.64,591.63 L150.03,591.64 L150.42,591.64 L150.82,591.64 L151.21,591.64 L151.60,591.64 L152.00,591.64 L152.39,591.65 L152.78,591.65 L153.18,591.65 L153.57,591.65 L153.96,591.65 L154.36,591.66 L154.75,591.66 L155.14,591.66 L155.54,591.66 L155.93,591.66 L156.32,591.67 L156.72,591.67 L157.11,591.67 L157.51,591.67 L157.90,591.67 L158.29,591.68 L158.69,591.68 L159.08,591.68 L159.47,591.68 L159.87,591.69 L160.26,591.69 L160.65,591.69 L161.05,591.69 L161.44,591.70 L161.83,591.70 L162.23,591.70 L162.62,591.70 L163.01,591.71 L163.41,591.71 L163.80,591.71 L164.19,591.72 L164.59,591.72 L164.98,591.72 L165.37,591.72 L165.77,591.73 L166.16,591.73 L166.55,591.73 L166.95,591.74 L167.34,591.74 L167.73,591.74 L168.13,591.75 L168.52,591.75 L168.91,591.75 L169.31,591.76 L169.70,591.76 L170.09,591.76 L170.49,591.77 L170.88,591.77 L171.27,591.77 L171.67,591.78 L172.06,591.78 L172.45,591.79 L172.85,591.79 L173.24,591.79 L173.63,591.80 L174.03,591.80 L174.42,591.81 L174.81,591.81 L175.21,591.81 L175.60,591.82 L175.99,591.82 L176.39,591.83 L176.78,591.83 L177.17,591.84 L177.57,591.84 L177.96,591.85 L178.35,591.85 L178.74,591.86 L179.14,591.86 L179.53,591.87 L179.92,591.87 L180.32,591.88 L180.71,591.88 L181.10,591.89 L181.49,591.89 L181.89,591.90 L182.28,591.90 L182.67,591.91 L183.07,591.91 L183.46,591.92 L183.85,591.92 L184.24,591.93 L184.64,591.94 L185.03,591.94 L185.42,591.95 L185.82,591.95 L186.21,591.96 L186.60,591.97 L186.99,591.97 L187.39,591.98 L187.78,591.98 L188.17,591.99 L188.56,592.00 L188.96,592.00 L189.35,592.01 L189.74,592.02 L190.13,592.03 L190.53,592.05 L190.92,592.06 L191.31,592.08 L191.70,592.10 L192.09,592.12 L192.49,592.14 L192.88,592.16 L193.27,592.18 L193.66,592.20 L194.06,592.23 L194.45,592.26 L194.84,592.28 L195.23,592.31 L195.63,592.34 L196.02,592.37 L196.41,592.40 L196.80,592.44 L197.19,592.47 L197.59,592.51 L197.98,592.54 L198.37,592.58 L198.76,592.61 L199.15,592.65 L199.55,592.69 L199.94,592.73 L200.33,592.77 L200.72,592.80 L201.11,592.84 L201.51,592.89 L201.90,592.93 L202.29,592.97 L202.68,593.01 L203.07,593.05 L203.46,593.09 L203.86,593.14 L204.25,593.18 L204.64,593.22 L205.03,593.26 L205.42,593.31 L205.81,593.35 L206.20,593.39 L206.60,593.44 L206.99,593.48 L207.38,593.52 L207.77,593.56 L208.16,593.61 L208.55,593.65 L208.94,593.69 L209.33,593.73 L209.72,593.77 L210.11,593.81 L210.51,593.85 L210.90,593.89 L211.29,593.94 L211.68,593.98 L212.07,594.02 L212.46,594.06 L212.85,594.10 L213.24,594.15 L213.63,594.19 L214.02,594.24 L214.42,594.28 L214.81,594.33 L215.20,594.37 L215.59,594.42 L215.98,594.46 L216.37,594.51 L216.76,594.56 L217.15,594.60 L217.54,594.65 L217.93,594.70 L218.32,594.75 L218.72,594.80 L219.11,594.85 L219.50,594.90 L219.89,594.95 L220.28,595.00 L220.67,595.05 L221.06,595.11 L221.45,595.16 L221.84,595.21 L222.23,595.27 L222.62,595.32 L223.01,595.38 L223.40,595.43 L223.79,595.49 L224.17,595.54 L224.56,595.60 L224.95,595.66 L225.34,595.72 L225.73,595.78 L226.12,595.84 L226.51,595.90 L226.89,595.96 L227.28,596.02 L227.67,596.08 L228.06,596.14 L228.45,596.21 L228.83,596.27 L229.22,596.34 L229.61,596.40 L229.99,596.47 L230.38,596.54 L230.76,596.60 L231.15,596.67 L231.54,596.75 L231.92,596.82 L232.31,596.89 L232.69,596.97 L233.08,597.05 L233.46,597.13 L233.85,597.20 L234.23,597.29 L234.62,597.37 L235.00,597.45 L235.39,597.53 L235.77,597.62 L236.15,597.70 L236.54,597.79 L236.92,597.88 L237.30,597.97 L237.69,598.06 L238.07,598.15 L238.45,598.24 L238.84,598.33 L239.22,598.43 L239.60,598.52 L239.98,598.62 L240.37,598.71 L240.75,598.81 L241.13,598.90 L241.51,599.00 L241.89,599.10 L242.27,599.20 L242.66,599.30 L243.04,599.40 L243.42,599.50 L243.80,599.60" fill="none" stroke="#000" stroke-width="2.0" stroke-linejoin="round" stroke-linecap="round" clip-path="url(#cb)"/>
<path d="M87.50,822.00 L87.75,822.00 L87.99,822.00 L88.24,822.00 L88.49,822.00 L88.73,822.00 L88.98,822.00 L89.23,822.00 L89.47,822.00 L89.72,822.00 L89.97,822.00 L90.22,822.00 L90.46,822.00 L90.71,822.00 L90.96,822.00 L91.20,822.00 L91.45,822.00 L91.70,822.00 L91.94,822.00 L92.19,822.00 L92.44,822.00 L92.68,822.00 L92.93,822.00 L93.18,822.00 L93.42,822.00 L93.67,822.00 L93.92,822.00 L94.17,822.00 L94.41,822.00 L94.66,822.00 L94.91,822.00 L95.15,822.00 L95.40,822.00 L95.65,822.00 L95.89,822.00 L96.14,822.00 L96.39,822.00 L96.63,822.00 L96.88,822.00 L97.13,822.00 L97.37,822.00 L97.62,822.00 L97.87,822.00 L98.12,822.00 L98.36,822.00 L98.61,822.00 L98.86,822.00 L99.10,822.00 L99.35,822.00 L99.60,822.00 L99.84,822.00 L100.09,822.00 L100.34,822.00 L100.58,822.00 L100.83,822.00 L101.08,822.00 L101.32,822.00 L101.57,822.00 L101.82,822.00 L102.07,822.00 L102.31,822.00 L102.56,822.00 L102.81,822.00 L103.05,822.00 L103.30,822.00 L103.55,822.00 L103.79,822.00 L104.04,822.00 L104.29,822.00 L104.53,822.00 L104.78,822.00 L105.03,822.00 L105.27,822.00 L105.52,822.00 L105.77,822.00 L106.02,822.00 L106.26,822.00 L106.51,822.00 L106.76,822.00 L107.00,822.00 L107.25,822.00 L107.50,822.00 L107.74,822.00 L107.99,822.00 L108.24,822.00 L108.48,822.00 L108.73,822.00 L108.98,822.00 L109.22,822.00 L109.47,822.00 L109.72,822.00 L109.96,822.00 L110.21,822.00 L110.46,822.00 L110.71,822.00 L110.95,822.00 L111.20,822.00 L111.45,822.00 L111.69,822.00 L111.94,822.00 L112.19,822.00 L112.43,822.00 L112.68,822.00 L112.93,822.00 L113.17,822.00 L113.42,822.00 L113.67,822.00 L113.91,822.00 L114.16,822.00 L114.41,822.00 L114.66,822.00 L114.90,822.00 L115.15,822.00 L115.40,822.00 L115.64,822.00 L115.89,822.00 L116.14,822.00 L116.38,822.00 L116.63,822.00 L116.88,822.00 L117.12,822.00 L117.37,822.00 L117.62,822.00 L117.86,822.00 L118.11,822.00 L118.36,822.00 L118.61,822.00 L118.85,822.00 L119.10,822.00 L119.35,822.00 L119.59,822.00 L119.84,822.00 L120.09,822.00 L120.33,822.00 L120.58,822.00 L120.83,822.00 L121.07,822.00 L121.32,822.00 L121.57,822.00 L121.81,822.00 L122.06,822.00 L122.31,822.00 L122.56,822.00 L122.80,822.00 L123.05,822.00 L123.30,822.00 L123.54,822.00 L123.79,822.00 L124.04,822.00 L124.28,822.00 L124.53,822.00 L124.78,822.00 L125.02,822.00 L125.27,822.00 L125.52,822.00 L125.76,822.00 L126.01,822.00 L126.26,822.00 L126.51,822.00 L126.75,822.00 L127.00,822.00 L127.25,822.00 L127.49,822.00 L127.74,822.00 L127.99,822.00 L128.23,822.00 L128.48,822.00 L128.73,822.00 L128.97,822.00 L129.22,822.00 L129.47,822.00 L129.71,822.00 L129.96,822.00 L130.21,822.00 L130.45,822.00 L130.70,822.00 L130.95,822.00 L131.20,822.00 L131.44,822.00 L131.69,822.00 L131.94,822.00 L132.18,822.00 L132.43,822.00 L132.68,822.00 L132.92,822.00 L133.17,822.00 L133.42,822.00 L133.66,822.00 L133.91,822.00 L134.16,822.00 L134.40,822.00 L134.65,822.00 L134.90,822.00 L135.15,822.00 L135.39,822.00 L135.64,822.00 L135.89,822.00 L136.13,822.00 L136.38,822.00 L136.63,822.00 L136.87,822.00 L137.12,822.00 L137.37,822.00 L137.61,822.00 L137.86,822.00 L138.11,822.00 L138.35,822.00 L138.60,822.00 L138.85,822.00 L139.10,822.00 L139.34,822.00 L139.59,822.00 L139.84,822.00 L140.08,822.00 L140.33,822.00 L140.58,822.00 L140.82,822.00 L141.07,822.00 L141.32,822.00 L141.56,822.00 L141.81,822.00 L142.06,822.00 L142.30,822.00 L142.55,822.00 L142.80,822.00 L143.05,822.00 L143.29,822.00 L143.54,822.00 L143.79,822.00 L144.03,822.00 L144.28,822.00 L144.53,822.00 L144.77,822.00 L145.02,822.00 L145.27,822.00 L145.51,822.00 L145.76,822.00 L146.01,822.00 L146.25,822.00 L146.50,822.00 L146.75,822.00 L146.99,822.00 L147.24,822.00 L147.49,822.00 L147.74,822.00 L147.98,822.00 L148.23,822.00 L148.48,822.00 L148.72,822.00 L148.97,822.00 L149.22,822.00 L149.46,822.00 L149.71,822.00 L149.96,822.00 L150.20,822.00 L150.45,822.00 L150.70,822.00 L150.94,822.00 L151.19,822.00 L151.44,822.00 L151.69,822.00 L151.93,822.00 L152.18,822.00 L152.43,822.00 L152.67,822.00 L152.92,822.00 L153.17,822.00 L153.41,822.00 L153.66,822.00 L153.91,822.00 L154.15,822.00 L154.40,822.00 L154.65,822.00 L154.89,822.00 L155.14,822.00 L155.39,822.00 L155.64,822.00 L155.88,822.00 L156.13,822.00 L156.38,822.00 L156.62,822.00 L156.87,822.00 L157.12,822.00 L157.36,822.00 L157.61,822.00 L157.86,822.00 L158.10,822.00 L158.35,822.00 L158.60,822.00 L158.84,822.00 L159.09,822.00 L159.34,822.00 L159.59,822.00 L159.83,822.00 L160.08,822.00 L160.33,822.00 L160.57,822.00 L160.82,822.00 L161.07,822.00 L161.31,822.00 L161.56,822.00 L161.81,822.00 L162.05,822.00 L162.30,822.00 L162.55,822.00 L162.79,822.00 L163.04,822.00 L163.29,822.00 L163.54,822.00 L163.78,822.00 L164.03,822.00 L164.28,822.00 L164.52,822.00 L164.77,822.00 L165.02,822.00 L165.26,822.00 L165.51,822.00 L165.76,822.00 L166.00,822.00 L166.25,822.00 L166.50,822.00 L166.74,822.00 L166.99,822.00 L167.24,822.00 L167.48,822.00 L167.73,822.00 L167.98,822.00 L168.23,822.00 L168.47,822.00 L168.72,822.00 L168.97,822.00 L169.21,822.00 L169.46,822.00 L169.71,822.00 L169.95,822.00 L170.20,822.00 L170.45,822.00 L170.69,822.00 L170.94,822.00 L171.19,822.00 L171.43,822.00 L171.68,822.00 L171.93,822.00 L172.18,822.00 L172.42,822.00 L172.67,822.00 L172.92,822.00 L173.16,822.00 L173.41,822.00 L173.66,822.00 L173.90,822.00 L174.15,822.00 L174.40,822.00 L174.64,822.00 L174.89,822.00 L175.14,822.00 L175.38,822.00 L175.63,822.00 L175.88,822.00 L176.13,822.00 L176.37,822.00 L176.62,822.00 L176.87,822.00 L177.11,822.00 L177.36,822.00 L177.61,822.00 L177.85,822.00 L178.10,822.00 L178.35,822.00 L178.59,822.00 L178.84,822.00 L179.09,822.00 L179.33,822.00 L179.58,822.00 L179.83,822.00 L180.08,822.00 L180.32,822.00 L180.57,822.00 L180.82,822.00 L181.06,822.00 L181.31,822.00 L181.56,822.00 L181.80,822.00 L182.05,822.00 L182.30,822.00 L182.54,822.00 L182.79,822.00 L183.04,822.00 L183.28,822.00 L183.53,822.00 L183.78,822.00 L184.03,822.00 L184.27,822.00 L184.52,822.00 L184.77,822.00 L185.01,822.00 L185.26,822.00 L185.51,822.00 L185.75,822.00 L186.00,822.00" fill="none" stroke="#000" stroke-width="2.0" stroke-linejoin="round" stroke-linecap="round" clip-path="url(#cb)"/>
<defs><clipPath id="clb"><rect x="-10" y="457.7" width="700" height="405.1"/></clipPath></defs>
<g clip-path="url(#clb)">
<path d="M87.50,538.70 L88.64,538.82 L89.79,538.93 L90.93,539.03 L92.07,539.12 L93.22,539.19 L94.36,539.26 L95.50,539.32 L96.64,539.37 L97.79,539.41 L98.93,539.45 L100.07,539.48 L101.22,539.50 L102.36,539.51 L103.50,539.52 L104.65,539.53 L105.79,539.53 L106.93,539.52 L108.08,539.51 L109.22,539.50 L110.36,539.48 L111.51,539.47 L112.65,539.45 L113.79,539.43 L114.93,539.40 L116.08,539.38 L117.22,539.36 L118.36,539.33 L119.51,539.31 L120.65,539.29 L121.79,539.27 L122.94,539.25 L124.08,539.24 L125.22,539.22 L126.37,539.21 L127.51,539.21 L128.65,539.21 L129.79,539.21 L130.94,539.22 L132.08,539.24 L133.22,539.26 L134.37,539.28 L135.51,539.32 L136.65,539.36 L137.80,539.41 L138.94,539.47 L140.08,539.53 L141.23,539.61 L142.37,539.70 L143.51,539.79 L144.66,539.90 L145.80,540.02 L146.94,540.15 L148.08,540.29 L149.23,540.44 L150.37,540.61 L151.51,540.79 L152.66,540.99 L153.80,541.19 L154.94,541.42 L156.09,541.66 L157.23,541.91 L158.37,542.18 L159.52,542.47 L160.66,542.77 L161.80,543.09 L162.95,543.43 L164.09,543.79 L165.23,544.17 L166.37,544.56 L167.52,544.97 L168.66,545.40 L169.80,545.85 L170.95,546.31 L172.09,546.79 L173.23,547.28 L174.38,547.80 L175.52,548.33 L176.66,548.87 L177.81,549.43 L178.95,550.00 L180.09,550.59 L181.23,551.20 L182.38,551.82 L183.52,552.45 L184.66,553.09 L185.81,553.76 L186.95,554.43 L188.09,555.12 L189.24,555.82 L190.38,556.53 L191.52,557.25 L192.67,557.99 L193.81,558.74 L194.95,559.50 L196.10,560.28 L197.24,561.06 L198.38,561.85 L199.52,562.66 L200.67,563.48 L201.81,564.30 L202.95,565.14 L204.10,565.98 L205.24,566.83 L206.38,567.69 L207.53,568.56 L208.67,569.43 L209.81,570.31 L210.96,571.19 L212.10,572.07 L213.24,572.95 L214.38,573.84 L215.53,574.73 L216.67,575.61 L217.81,576.50 L218.96,577.38 L220.10,578.26 L221.24,579.14 L222.39,580.01 L223.53,580.88 L224.67,581.74 L225.82,582.60 L226.96,583.44 L228.10,584.28 L229.25,585.11 L230.39,585.93 L231.53,586.74 L232.67,587.53 L233.82,588.32 L234.96,589.09 L236.10,589.84 L237.25,590.58 L238.39,591.30 L239.53,592.01 L240.68,592.71 L241.82,593.39 L242.96,594.05 L244.11,594.71 L245.25,595.36 L246.39,596.00 L247.54,596.64 L248.68,597.26 L249.82,597.89 L250.96,598.51 L252.11,599.14 L253.25,599.76 L254.39,600.39 L255.54,601.01 L256.68,601.65 L257.82,602.29 L258.97,602.93 L260.11,603.59 L261.25,604.25 L262.40,604.92 L263.54,605.59 L264.68,606.28 L265.82,606.97 L266.97,607.67 L268.11,608.37 L269.25,609.08 L270.40,609.80 L271.54,610.52 L272.68,611.26 L273.83,611.99 L274.97,612.74 L276.11,613.49 L277.26,614.25 L278.40,615.01 L279.54,615.78 L280.69,616.56 L281.83,617.35 L282.97,618.13 L284.11,618.93 L285.26,619.73 L286.40,620.54 L287.54,621.35 L288.69,622.17 L289.83,623.00 L290.97,623.83 L292.12,624.67 L293.26,625.51 L294.40,626.36 L295.55,627.21 L296.69,628.07 L297.83,628.93 L298.97,629.80 L300.12,630.68 L301.26,631.56 L302.40,632.44 L303.55,633.33 L304.69,634.22 L305.83,635.12 L306.98,636.02 L308.12,636.92 L309.26,637.83 L310.41,638.75 L311.55,639.66 L312.69,640.58 L313.84,641.51 L314.98,642.43 L316.12,643.36 L317.26,644.30 L318.41,645.23 L319.55,646.17 L320.69,647.11 L321.84,648.06 L322.98,649.00 L324.12,649.95 L325.27,650.91 L326.41,651.87 L327.55,652.83 L328.70,653.80 L329.84,654.77 L330.98,655.75 L332.13,656.73 L333.27,657.72 L334.41,658.71 L335.55,659.71 L336.70,660.72 L337.84,661.73 L338.98,662.75 L340.13,663.78 L341.27,664.82 L342.41,665.86 L343.56,666.91 L344.70,667.98 L345.84,669.05 L346.99,670.13 L348.13,671.21 L349.27,672.31 L350.41,673.42 L351.56,674.54 L352.70,675.67 L353.84,676.81 L354.99,677.96 L356.13,679.13 L357.27,680.30 L358.42,681.49 L359.56,682.69 L360.70,683.90 L361.85,685.13 L362.99,686.37 L364.13,687.62 L365.28,688.89 L366.42,690.17 L367.56,691.46 L368.70,692.77 L369.85,694.10 L370.99,695.44 L372.13,696.79 L373.28,698.16 L374.42,699.55 L375.56,700.95 L376.71,702.36 L377.85,703.78 L378.99,705.22 L380.14,706.67 L381.28,708.13 L382.42,709.60 L383.56,711.08 L384.71,712.57 L385.85,714.07 L386.99,715.57 L388.14,717.09 L389.28,718.61 L390.42,720.14 L391.57,721.67 L392.71,723.21 L393.85,724.75 L395.00,726.30 L396.14,727.84 L397.28,729.40 L398.43,730.95 L399.57,732.51 L400.71,734.07 L401.85,735.62 L403.00,737.18 L404.14,738.74 L405.28,740.29 L406.43,741.85 L407.57,743.40 L408.71,744.95 L409.86,746.49 L411.00,748.03 L412.14,749.57 L413.29,751.10 L414.43,752.62 L415.57,754.14 L416.72,755.65 L417.86,757.15 L419.00,758.64 L420.14,760.13 L421.29,761.61 L422.43,763.07 L423.57,764.53 L424.72,765.97 L425.86,767.41 L427.00,768.84 L428.15,770.26 L429.29,771.66 L430.43,773.06 L431.58,774.45 L432.72,775.83 L433.86,777.20 L435.00,778.56 L436.15,779.91 L437.29,781.25 L438.43,782.58 L439.58,783.90 L440.72,785.21 L441.86,786.51 L443.01,787.80 L444.15,789.08 L445.29,790.35 L446.44,791.61 L447.58,792.86 L448.72,794.10 L449.87,795.33 L451.01,796.56 L452.15,797.77 L453.29,798.97 L454.44,800.16 L455.58,801.35 L456.72,802.52 L457.87,803.68 L459.01,804.83 L460.15,805.98 L461.30,807.11 L462.44,808.23 L463.58,809.34 L464.73,810.45 L465.87,811.54 L467.01,812.62 L468.15,813.70 L469.30,814.76 L470.44,815.81 L471.58,816.86 L472.73,817.89 L473.87,818.91 L475.01,819.92 L476.16,820.93 L477.30,821.92 L478.44,822.90 L479.59,823.88 L480.73,824.84 L481.87,825.79 L483.02,826.73 L484.16,827.67 L485.30,828.59 L486.44,829.50 L487.59,830.41 L488.73,831.30 L489.87,832.18 L491.02,833.05 L492.16,833.91 L493.30,834.77 L494.45,835.61 L495.59,836.44 L496.73,837.26 L497.88,838.07 L499.02,838.87 L500.16,839.66 L501.31,840.44 L502.45,841.21 L503.59,841.97 L504.73,842.72 L505.88,843.46 L507.02,844.19 L508.16,844.91 L509.31,845.62 L510.45,846.32 L511.59,847.01 L512.74,847.69 L513.88,848.35 L515.02,849.01 L516.17,849.66 L517.31,850.30 L518.45,850.92 L519.59,851.54 L520.74,852.15 L521.88,852.74 L523.02,853.33 L524.17,853.90 L525.31,854.47 L526.45,855.02 L527.60,855.57 L528.74,856.10 L529.88,856.62 L531.03,857.13 L532.17,857.64 L533.31,858.13 L534.46,858.61 L535.60,859.08 L536.74,859.54 L537.88,859.99 L539.03,860.43 L540.17,860.86 L541.31,861.28 L542.46,861.69 L543.60,862.09" fill="none" stroke="#0000f0" stroke-width="3.9" stroke-linejoin="round" stroke-linecap="round"/>
<path d="M87.50,825.20 L89.19,825.20 L90.88,825.20 L92.56,825.20 L94.25,825.20 L95.94,825.20 L97.63,825.20 L99.32,825.20 L101.00,825.20 L102.69,825.20 L104.38,825.20 L106.07,825.20 L107.76,825.20 L109.44,825.20 L111.13,825.20 L112.82,825.20 L114.51,825.20 L116.19,825.20 L117.88,825.20 L119.57,825.20 L121.26,825.20 L122.95,825.20 L124.63,825.20 L126.32,825.20 L128.01,825.20 L129.70,825.20 L131.39,825.20 L133.07,825.20 L134.76,825.19 L136.45,825.19 L138.14,825.18 L139.83,825.17 L141.51,825.16 L143.20,825.15 L144.89,825.14 L146.58,825.13 L148.27,825.12 L149.95,825.10 L151.64,825.09 L153.33,825.07 L155.02,825.05 L156.70,825.04 L158.39,825.02 L160.08,825.00 L161.77,824.98 L163.45,824.95 L165.14,824.91 L166.83,824.87 L168.52,824.82 L170.20,824.76 L171.89,824.71 L173.58,824.64 L175.26,824.58 L176.95,824.51 L178.64,824.43 L180.32,824.36 L182.01,824.28 L183.70,824.20 L185.38,824.12 L187.07,824.03 L188.76,823.95 L190.44,823.87 L192.13,823.79 L193.81,823.71 L195.50,823.63 L197.18,823.54 L198.87,823.45 L200.55,823.35 L202.24,823.25 L203.92,823.14 L205.61,823.04 L207.29,822.93 L208.98,822.82 L210.66,822.72 L212.35,822.61 L214.03,822.51 L215.72,822.42 L217.40,822.32 L219.09,822.23 L220.77,822.14 L222.46,822.05 L224.15,821.97 L225.83,821.88 L227.52,821.80 L229.20,821.71 L230.89,821.63 L232.58,821.55 L234.26,821.47 L235.95,821.38 L237.63,821.30 L239.32,821.22 L241.01,821.14 L242.69,821.05 L244.38,820.97 L246.06,820.88 L247.75,820.80 L249.44,820.71 L251.12,820.61 L252.81,820.52 L254.49,820.43 L256.18,820.33 L257.86,820.23 L259.54,820.12 L261.23,820.02 L262.91,819.91 L264.60,819.79 L266.28,819.67 L267.96,819.55 L269.65,819.43 L271.33,819.30 L273.01,819.17 L274.70,819.03 L276.38,818.89 L278.06,818.75 L279.74,818.61 L281.42,818.47 L283.11,818.32 L284.79,818.17 L286.47,818.02 L288.15,817.87 L289.83,817.70 L291.51,817.53 L293.19,817.36 L294.87,817.18 L296.54,817.00 L298.22,816.82 L299.90,816.64 L301.58,816.45 L303.26,816.28 L304.94,816.10 L306.62,815.93 L308.30,815.77 L309.98,815.62 L311.66,815.47 L313.34,815.33 L315.02,815.19 L316.71,815.06 L318.39,814.93 L320.08,814.80 L321.76,814.67 L323.45,814.54 L325.13,814.40 L326.81,814.27 L328.49,814.13 L330.18,813.98 L331.86,813.83 L333.53,813.67 L335.21,813.50 L336.89,813.32 L338.56,813.14 L340.24,812.94 L341.92,812.73 L343.59,812.52 L345.27,812.30 L346.95,812.06 L348.63,811.82 L350.30,811.57 L351.98,811.30 L353.64,811.02 L355.31,810.74 L356.97,810.44 L358.63,810.12 L360.28,809.79 L361.93,809.45 L363.56,809.10 L365.19,808.71 L366.81,808.26 L368.41,807.75 L370.01,807.20 L371.61,806.63 L373.20,806.05 L374.80,805.48 L376.40,804.94 L378.02,804.44 L379.64,803.96 L381.26,803.51 L382.89,803.07 L384.53,802.64 L386.16,802.21 L387.80,801.79 L389.43,801.36 L391.06,800.92 L392.68,800.46 L394.30,799.99 L395.91,799.50 L397.52,798.99 L399.12,798.46 L400.72,797.92 L402.31,797.36 L403.90,796.79 L405.49,796.22 L407.08,795.63 L408.66,795.04 L410.24,794.45 L411.82,793.86 L413.40,793.26 L414.98,792.67 L416.57,792.08 L418.15,791.48 L419.73,790.89 L421.31,790.28 L422.89,789.67 L424.46,789.05 L426.03,788.41 L427.58,787.76 L429.13,787.09 L430.66,786.40 L432.18,785.69 L433.70,784.96 L435.20,784.20 L436.70,783.42 L438.20,782.63 L439.68,781.82 L441.16,780.99 L442.63,780.15 L444.09,779.30 L445.55,778.44 L446.99,777.57 L448.43,776.69 L449.86,775.80 L451.29,774.91 L452.71,774.00 L454.13,773.08 L455.55,772.14 L456.95,771.20 L458.35,770.24 L459.73,769.26 L461.11,768.28 L462.47,767.28 L463.82,766.26 L465.15,765.23 L466.47,764.19 L467.76,763.12 L469.02,762.01 L470.26,760.87 L471.49,759.70 L472.70,758.53 L473.92,757.35 L475.14,756.18 L476.38,755.03 L477.64,753.90 L478.95,752.82 L480.28,751.76 L481.60,750.69 L482.87,749.59 L484.06,748.43 L485.20,747.21 L486.30,745.95 L487.38,744.66 L488.44,743.33 L489.47,741.98 L490.47,740.60 L491.46,739.21 L492.42,737.80 L493.35,736.38 L494.26,734.95 L495.16,733.52 L496.03,732.10 L496.89,730.66 L497.75,729.21 L498.60,727.75 L499.44,726.28 L500.27,724.79 L501.08,723.30 L501.89,721.80 L502.67,720.29 L503.44,718.77 L504.20,717.24 L504.93,715.71 L505.64,714.16 L506.32,712.62 L506.98,711.07 L507.62,709.51 L508.22,707.95 L508.80,706.38 L509.35,704.81 L509.89,703.23 L510.41,701.64 L510.92,700.04 L511.42,698.43 L511.91,696.82 L512.39,695.20 L512.85,693.57 L513.30,691.94 L513.74,690.30 L514.17,688.66 L514.59,687.01 L515.00,685.36 L515.40,683.71 L515.79,682.06 L516.17,680.40 L516.54,678.75 L516.90,677.09 L517.25,675.44 L517.60,673.79 L517.93,672.14 L518.26,670.49 L518.59,668.84 L518.91,667.18 L519.22,665.53 L519.53,663.87 L519.83,662.20 L520.12,660.54 L520.41,658.88 L520.69,657.21 L520.97,655.54 L521.24,653.87 L521.50,652.20 L521.75,650.53 L522.00,648.86 L522.25,647.19 L522.49,645.51 L522.72,643.84 L522.94,642.17 L523.16,640.50 L523.37,638.82 L523.58,637.15 L523.77,635.48 L523.97,633.80 L524.15,632.12 L524.33,630.45 L524.51,628.77 L524.68,627.09 L524.85,625.41 L525.01,623.73 L525.17,622.05 L525.33,620.37 L525.49,618.68 L525.65,617.00 L525.81,615.32 L525.97,613.64 L526.13,611.96 L526.29,610.28 L526.45,608.60 L526.62,606.92 L526.79,605.24 L526.96,603.56 L527.13,601.88 L527.31,600.20 L527.48,598.52 L527.66,596.84 L527.84,595.16 L528.02,593.48 L528.19,591.81 L528.37,590.13 L528.54,588.45 L528.71,586.77 L528.88,585.09 L529.05,583.41 L529.21,581.73 L529.37,580.05 L529.53,578.37 L529.68,576.69 L529.82,575.01 L529.96,573.32 L530.09,571.64 L530.22,569.96 L530.35,568.28 L530.47,566.59 L530.59,564.91 L530.71,563.23 L530.83,561.54 L530.94,559.86 L531.05,558.17 L531.16,556.49 L531.27,554.80 L531.37,553.12 L531.48,551.44 L531.58,549.75 L531.69,548.07 L531.79,546.38 L531.89,544.69 L531.99,543.01 L532.09,541.32 L532.19,539.64 L532.28,537.95 L532.38,536.27 L532.48,534.58 L532.58,532.90 L532.67,531.21 L532.77,529.53 L532.86,527.84 L532.95,526.16 L533.05,524.47 L533.14,522.79 L533.23,521.10 L533.32,519.42 L533.41,517.73 L533.50,516.05 L533.58,514.36 L533.67,512.67 L533.76,510.99 L533.84,509.30 L533.92,507.62 L534.01,505.93 L534.09,504.24 L534.17,502.56 L534.25,500.87 L534.32,499.19 L534.40,497.50" fill="none" stroke="#ee0000" stroke-width="3.9" stroke-linejoin="round" stroke-linecap="round"/>
</g>
<line x1="87.5" y1="861.7" x2="87.5" y2="850.7" stroke="#000" stroke-width="2.0"/>
<line x1="87.5" y1="497.7" x2="87.5" y2="508.7" stroke="#000" stroke-width="2.0"/>
<line x1="184.4" y1="861.7" x2="184.4" y2="850.7" stroke="#000" stroke-width="2.0"/>
<line x1="184.4" y1="497.7" x2="184.4" y2="508.7" stroke="#000" stroke-width="2.0"/>
<line x1="281.3" y1="861.7" x2="281.3" y2="850.7" stroke="#000" stroke-width="2.0"/>
<line x1="281.3" y1="497.7" x2="281.3" y2="508.7" stroke="#000" stroke-width="2.0"/>
<line x1="378.2" y1="861.7" x2="378.2" y2="850.7" stroke="#000" stroke-width="2.0"/>
<line x1="378.2" y1="497.7" x2="378.2" y2="508.7" stroke="#000" stroke-width="2.0"/>
<line x1="475.1" y1="861.7" x2="475.1" y2="850.7" stroke="#000" stroke-width="2.0"/>
<line x1="475.1" y1="497.7" x2="475.1" y2="508.7" stroke="#000" stroke-width="2.0"/>
<line x1="572.0" y1="861.7" x2="572.0" y2="850.7" stroke="#000" stroke-width="2.0"/>
<line x1="572.0" y1="497.7" x2="572.0" y2="508.7" stroke="#000" stroke-width="2.0"/>
<line x1="87.5" y1="861.7" x2="98.5" y2="861.7" stroke="#000" stroke-width="2.0"/>
<line x1="87.5" y1="825.3" x2="98.5" y2="825.3" stroke="#000" stroke-width="2.0"/>
<line x1="87.5" y1="788.9" x2="98.5" y2="788.9" stroke="#000" stroke-width="2.0"/>
<line x1="87.5" y1="752.5" x2="98.5" y2="752.5" stroke="#000" stroke-width="2.0"/>
<line x1="87.5" y1="716.1" x2="98.5" y2="716.1" stroke="#000" stroke-width="2.0"/>
<line x1="87.5" y1="679.7" x2="98.5" y2="679.7" stroke="#000" stroke-width="2.0"/>
<line x1="87.5" y1="643.3" x2="98.5" y2="643.3" stroke="#000" stroke-width="2.0"/>
<line x1="87.5" y1="606.9" x2="98.5" y2="606.9" stroke="#000" stroke-width="2.0"/>
<line x1="87.5" y1="570.5" x2="98.5" y2="570.5" stroke="#000" stroke-width="2.0"/>
<line x1="87.5" y1="534.1" x2="98.5" y2="534.1" stroke="#000" stroke-width="2.0"/>
<line x1="87.5" y1="497.7" x2="98.5" y2="497.7" stroke="#000" stroke-width="2.0"/>
<line x1="572.0" y1="861.7" x2="561.0" y2="861.7" stroke="#000" stroke-width="2.0"/>
<line x1="572.0" y1="809.7" x2="561.0" y2="809.7" stroke="#000" stroke-width="2.0"/>
<line x1="572.0" y1="757.7" x2="561.0" y2="757.7" stroke="#000" stroke-width="2.0"/>
<line x1="572.0" y1="705.7" x2="561.0" y2="705.7" stroke="#000" stroke-width="2.0"/>
<line x1="572.0" y1="653.7" x2="561.0" y2="653.7" stroke="#000" stroke-width="2.0"/>
<line x1="572.0" y1="601.7" x2="561.0" y2="601.7" stroke="#000" stroke-width="2.0"/>
<line x1="572.0" y1="549.7" x2="561.0" y2="549.7" stroke="#000" stroke-width="2.0"/>
<line x1="572.0" y1="497.7" x2="561.0" y2="497.7" stroke="#000" stroke-width="2.0"/>
<rect x="87.5" y="497.7" width="484.5" height="364.00000000000006" fill="none" stroke="#000" stroke-width="2.2"/>
<g clip-path="url(#clb)">
<circle cx="93.0" cy="533.7" r="7.5" fill="url(#gb)"/>
<circle cx="89.6" cy="531.2" r="3.4" fill="url(#hlb)"/>
<circle cx="114.1" cy="541.9" r="7.5" fill="url(#gb)"/>
<circle cx="110.7" cy="539.4" r="3.4" fill="url(#hlb)"/>
<circle cx="141.1" cy="541.9" r="7.5" fill="url(#gb)"/>
<circle cx="137.7" cy="539.4" r="3.4" fill="url(#hlb)"/>
<circle cx="159.6" cy="542.6" r="7.5" fill="url(#gb)"/>
<circle cx="156.2" cy="540.1" r="3.4" fill="url(#hlb)"/>
<circle cx="194.1" cy="558.5" r="7.5" fill="url(#gb)"/>
<circle cx="190.7" cy="556.0" r="3.4" fill="url(#hlb)"/>
<circle cx="215.9" cy="575.2" r="7.5" fill="url(#gb)"/>
<circle cx="212.5" cy="572.7" r="3.4" fill="url(#hlb)"/>
<circle cx="261.5" cy="601.1" r="7.5" fill="url(#gb)"/>
<circle cx="258.1" cy="598.6" r="3.4" fill="url(#hlb)"/>
<circle cx="286.7" cy="619.6" r="7.5" fill="url(#gb)"/>
<circle cx="283.3" cy="617.1" r="3.4" fill="url(#hlb)"/>
<circle cx="308.9" cy="638.9" r="7.5" fill="url(#gb)"/>
<circle cx="305.5" cy="636.4" r="3.4" fill="url(#hlb)"/>
<circle cx="336.4" cy="657.6" r="7.5" fill="url(#gb)"/>
<circle cx="333.0" cy="655.1" r="3.4" fill="url(#hlb)"/>
<circle cx="345.8" cy="672.2" r="7.5" fill="url(#gb)"/>
<circle cx="342.4" cy="669.7" r="3.4" fill="url(#hlb)"/>
<circle cx="364.4" cy="684.2" r="7.5" fill="url(#gb)"/>
<circle cx="361.0" cy="681.7" r="3.4" fill="url(#hlb)"/>
<circle cx="382.2" cy="712.2" r="7.5" fill="url(#gb)"/>
<circle cx="378.8" cy="709.7" r="3.4" fill="url(#hlb)"/>
<circle cx="390.2" cy="714.9" r="7.5" fill="url(#gb)"/>
<circle cx="386.8" cy="712.4" r="3.4" fill="url(#hlb)"/>
<circle cx="409.8" cy="758.9" r="7.5" fill="url(#gb)"/>
<circle cx="406.4" cy="756.4" r="3.4" fill="url(#hlb)"/>
<circle cx="478.7" cy="821.1" r="7.5" fill="url(#gb)"/>
<circle cx="475.3" cy="818.6" r="3.4" fill="url(#hlb)"/>
<circle cx="527.6" cy="858.2" r="7.5" fill="url(#gb)"/>
<circle cx="524.2" cy="855.7" r="3.4" fill="url(#hlb)"/>
<circle cx="93.0" cy="825.6" r="7.5" fill="url(#gr)"/>
<circle cx="89.6" cy="823.1" r="3.4" fill="url(#hlr)"/>
<circle cx="114.1" cy="825.6" r="7.5" fill="url(#gr)"/>
<circle cx="110.7" cy="823.1" r="3.4" fill="url(#hlr)"/>
<circle cx="141.1" cy="825.6" r="7.5" fill="url(#gr)"/>
<circle cx="137.7" cy="823.1" r="3.4" fill="url(#hlr)"/>
<circle cx="159.6" cy="825.6" r="7.5" fill="url(#gr)"/>
<circle cx="156.2" cy="823.1" r="3.4" fill="url(#hlr)"/>
<circle cx="194.1" cy="823.7" r="7.5" fill="url(#gr)"/>
<circle cx="190.7" cy="821.2" r="3.4" fill="url(#hlr)"/>
<circle cx="215.9" cy="822.6" r="7.5" fill="url(#gr)"/>
<circle cx="212.5" cy="820.1" r="3.4" fill="url(#hlr)"/>
<circle cx="261.5" cy="820.0" r="7.5" fill="url(#gr)"/>
<circle cx="258.1" cy="817.5" r="3.4" fill="url(#hlr)"/>
<circle cx="286.7" cy="818.1" r="7.5" fill="url(#gr)"/>
<circle cx="283.3" cy="815.6" r="3.4" fill="url(#hlr)"/>
<circle cx="307.8" cy="815.5" r="7.5" fill="url(#gr)"/>
<circle cx="304.4" cy="813.0" r="3.4" fill="url(#hlr)"/>
<circle cx="337.8" cy="813.6" r="7.5" fill="url(#gr)"/>
<circle cx="334.4" cy="811.1" r="3.4" fill="url(#hlr)"/>
<circle cx="345.8" cy="811.3" r="7.5" fill="url(#gr)"/>
<circle cx="342.4" cy="808.8" r="3.4" fill="url(#hlr)"/>
<circle cx="363.6" cy="809.1" r="7.5" fill="url(#gr)"/>
<circle cx="360.2" cy="806.6" r="3.4" fill="url(#hlr)"/>
<circle cx="383.6" cy="804.2" r="7.5" fill="url(#gr)"/>
<circle cx="380.2" cy="801.7" r="3.4" fill="url(#hlr)"/>
<circle cx="390.2" cy="802.9" r="7.5" fill="url(#gr)"/>
<circle cx="386.8" cy="800.4" r="3.4" fill="url(#hlr)"/>
<circle cx="409.8" cy="790.9" r="7.5" fill="url(#gr)"/>
<circle cx="406.4" cy="788.4" r="3.4" fill="url(#hlr)"/>
<circle cx="479.2" cy="752.6" r="7.5" fill="url(#gr)"/>
<circle cx="475.8" cy="750.1" r="3.4" fill="url(#hlr)"/>
<circle cx="527.8" cy="542.1" r="7.5" fill="url(#gr)"/>
<circle cx="524.4" cy="539.6" r="3.4" fill="url(#hlr)"/>
<line x1="87.3" y1="799.6" x2="87.3" y2="857.3" stroke="#087808" stroke-width="3"/>
<line x1="81.2" y1="799.6" x2="93.4" y2="799.6" stroke="#087808" stroke-width="3"/>
<line x1="81.2" y1="857.3" x2="93.4" y2="857.3" stroke="#087808" stroke-width="3"/>
<circle cx="87.4" cy="826.2" r="8.6" fill="url(#gg)"/>
<circle cx="83.1" cy="823.0" r="4.6" fill="url(#hlg)"/>
</g>
<text x="74.60" y="889.2" font-size="20" textLength="25.01" lengthAdjust="spacing">0.0</text>
<text x="171.00" y="889.2" font-size="20" textLength="25.01" lengthAdjust="spacing">0.4</text>
<text x="268.40" y="889.2" font-size="20" textLength="25.01" lengthAdjust="spacing">0.8</text>
<text x="365.30" y="889.2" font-size="20" textLength="25.01" lengthAdjust="spacing">1.2</text>
<text x="462.20" y="889.2" font-size="20" textLength="25.01" lengthAdjust="spacing">1.6</text>
<text x="559.10" y="889.2" font-size="20" textLength="25.01" lengthAdjust="spacing">2.0</text>
<text x="41.40" y="868.5" font-size="20" textLength="30.57" lengthAdjust="spacing">200</text>
<text x="41.40" y="832.1" font-size="20" textLength="30.57" lengthAdjust="spacing">400</text>
<text x="41.40" y="795.7" font-size="20" textLength="30.57" lengthAdjust="spacing">600</text>
<text x="41.40" y="759.3" font-size="20" textLength="30.57" lengthAdjust="spacing">800</text>
<text x="31.80" y="722.9" font-size="20" textLength="40.30" lengthAdjust="spacing">1000</text>
<text x="31.80" y="686.5" font-size="20" textLength="40.30" lengthAdjust="spacing">1200</text>
<text x="31.80" y="650.1" font-size="20" textLength="40.30" lengthAdjust="spacing">1400</text>
<text x="31.80" y="613.7" font-size="20" textLength="40.30" lengthAdjust="spacing">1600</text>
<text x="31.80" y="577.3" font-size="20" textLength="40.30" lengthAdjust="spacing">1800</text>
<text x="31.80" y="540.9" font-size="20" textLength="40.30" lengthAdjust="spacing">2000</text>
<text x="31.80" y="504.5" font-size="20" textLength="40.30" lengthAdjust="spacing">2200</text>
<text x="582.80" y="868.5" font-size="20" textLength="25.01" lengthAdjust="spacing">0.0</text>
<text x="582.80" y="816.5" font-size="20" textLength="25.01" lengthAdjust="spacing">0.1</text>
<text x="582.80" y="764.5" font-size="20" textLength="25.01" lengthAdjust="spacing">0.2</text>
<text x="582.80" y="712.5" font-size="20" textLength="25.01" lengthAdjust="spacing">0.3</text>
<text x="582.80" y="660.5" font-size="20" textLength="25.01" lengthAdjust="spacing">0.4</text>
<text x="582.80" y="608.5" font-size="20" textLength="25.01" lengthAdjust="spacing">0.5</text>
<text x="582.80" y="556.5" font-size="20" textLength="25.01" lengthAdjust="spacing">0.6</text>
<text x="582.80" y="504.5" font-size="20" textLength="25.01" lengthAdjust="spacing">0.7</text>
<text x="132.30" y="526.7" font-size="28.5" font-weight="bold" textLength="36.19" lengthAdjust="spacing">(b)</text>
<text x="301.10" y="542.8" font-size="26.5" textLength="46.37" lengthAdjust="spacing">TaS</text>
<text x="348.90" y="551.8" font-size="19.5">2</text>
<text x="301.10" y="584.9" font-size="26.5" textLength="102.05" lengthAdjust="spacing">exfoliated</text>
<text x="302.60" y="620.4" font-size="26.5" font-style="italic">b</text>
<text x="316.40" y="620.4" font-size="26.5" textLength="87.70" lengthAdjust="spacing">=2.1 nm</text>
<g transform="translate(464.1,550.9) scale(0.9675,0.9905)"><path d="M0.9,4.0 C1.2,0.9 3.3,-0.1 4.9,0.6 C6.4,1.3 7.0,3.4 7.6,6.0 L9.5,14.2 C10.3,18.0 11.2,20.0 12.6,20.0 C13.6,20.0 14.3,18.8 14.6,17.3" fill="none" stroke="#000" stroke-width="1.75" stroke-linecap="round"/><path d="M6.9,8.0 L8.2,9.9 L3.3,20.9 L0.3,20.9 Z" fill="#000" stroke="#000" stroke-width="0.4" stroke-linejoin="round"/></g>
<line x1="519.7" y1="534.2" x2="446.6" y2="534.2" stroke="#000" stroke-width="2.1"/>
<path d="M440.6,534.2 L453.1,529.9000000000001 L449.6,534.2 L453.1,538.5 Z" fill="#000"/>
<text x="510.60" y="777.6" font-size="31" font-style="italic">J</text>
<text x="525.00" y="786.6" font-size="22">c</text>
<line x1="464.6" y1="800.4" x2="537.6" y2="800.4" stroke="#000" stroke-width="2.1"/>
<path d="M543.6,800.4 L531.1,796.1 L534.6,800.4 L531.1,804.6999999999999 Z" fill="#000"/>
<g transform="translate(19.5,853.8) rotate(-90)"><text x="-2.00" y="0" font-size="26.5" textLength="327.41" lengthAdjust="spacing">London penetration depth (nm)</text></g>
<g transform="translate(643.2,801.1) rotate(-90)"><text x="-1.00" y="0" font-size="26.5" textLength="89.89" lengthAdjust="spacing">self-field</text></g>
<g transform="translate(643.2,801.1) rotate(-90)"><text x="106.00" y="0" font-size="28" font-style="italic">J</text></g>
<g transform="translate(643.2,801.1) rotate(-90)"><text x="118.00" y="9.2" font-size="18.5">c</text></g>
<g transform="translate(643.2,801.1) rotate(-90)"><text x="134.30" y="0" font-size="26.5" textLength="88.07" lengthAdjust="spacing">(MA/cm</text></g>
<g transform="translate(643.2,801.1) rotate(-90)"><text x="225.70" y="-8.4" font-size="18">2</text></g>
<g transform="translate(643.2,801.1) rotate(-90)"><text x="238.10" y="0" font-size="26.5">)</text></g>
<text x="238.50" y="931.0" font-size="27" textLength="169.58" lengthAdjust="spacing">temperature (K)</text>
<defs><clipPath id="clc"><rect x="-10" y="941.8" width="700" height="405.3"/></clipPath></defs>
<g clip-path="url(#clc)">
<path d="M87.50,1031.80 L88.96,1031.80 L90.41,1031.80 L91.87,1031.80 L93.33,1031.80 L94.78,1031.80 L96.24,1031.80 L97.70,1031.80 L99.15,1031.80 L100.61,1031.80 L102.07,1031.80 L103.53,1031.80 L104.98,1031.80 L106.44,1031.80 L107.90,1031.80 L109.35,1031.80 L110.81,1031.80 L112.27,1031.80 L113.72,1031.80 L115.18,1031.80 L116.64,1031.80 L118.09,1031.80 L119.55,1031.80 L121.01,1031.80 L122.46,1031.80 L123.92,1031.80 L125.38,1031.80 L126.83,1031.80 L128.29,1031.80 L129.75,1031.80 L131.21,1031.80 L132.66,1031.80 L134.12,1031.80 L135.58,1031.80 L137.03,1031.80 L138.49,1031.80 L139.95,1031.80 L141.40,1031.80 L142.86,1031.80 L144.32,1031.80 L145.78,1031.80 L147.23,1031.80 L148.69,1031.80 L150.15,1031.80 L151.60,1031.80 L153.06,1031.80 L154.52,1031.80 L155.97,1031.80 L157.43,1031.80 L158.89,1031.80 L160.34,1031.80 L161.80,1031.80 L163.26,1031.80 L164.71,1031.80 L166.17,1031.80 L167.63,1031.80 L169.08,1031.80 L170.54,1031.80 L172.00,1031.81 L173.46,1031.82 L174.91,1031.85 L176.37,1031.88 L177.83,1031.92 L179.29,1031.97 L180.75,1032.02 L182.21,1032.08 L183.67,1032.14 L185.13,1032.21 L186.59,1032.28 L188.04,1032.36 L189.49,1032.44 L190.95,1032.53 L192.39,1032.62 L193.84,1032.71 L195.29,1032.81 L196.73,1032.92 L198.17,1033.07 L199.61,1033.25 L201.05,1033.45 L202.48,1033.69 L203.92,1033.94 L205.35,1034.22 L206.78,1034.51 L208.21,1034.81 L209.64,1035.13 L211.07,1035.45 L212.50,1035.78 L213.92,1036.12 L215.35,1036.45 L216.77,1036.78 L218.20,1037.11 L219.62,1037.43 L221.04,1037.74 L222.47,1038.05 L223.89,1038.36 L225.31,1038.68 L226.74,1039.00 L228.16,1039.32 L229.59,1039.65 L231.01,1039.98 L232.43,1040.32 L233.85,1040.67 L235.27,1041.02 L236.68,1041.39 L238.09,1041.75 L239.50,1042.13 L240.90,1042.52 L242.30,1042.92 L243.69,1043.32 L245.08,1043.74 L246.46,1044.17 L247.84,1044.61 L249.22,1045.07 L250.60,1045.54 L251.97,1046.03 L253.35,1046.53 L254.72,1047.04 L256.08,1047.57 L257.45,1048.10 L258.80,1048.65 L260.16,1049.21 L261.51,1049.78 L262.85,1050.35 L264.19,1050.94 L265.52,1051.54 L266.85,1052.14 L268.17,1052.75 L269.48,1053.37 L270.78,1053.99 L272.08,1054.63 L273.37,1055.28 L274.66,1055.95 L275.94,1056.64 L277.21,1057.34 L278.48,1058.05 L279.75,1058.78 L281.01,1059.52 L282.27,1060.26 L283.52,1061.02 L284.76,1061.79 L286.00,1062.57 L287.24,1063.35 L288.47,1064.14 L289.70,1064.94 L290.93,1065.73 L292.15,1066.54 L293.36,1067.34 L294.58,1068.15 L295.78,1068.96 L296.99,1069.76 L298.19,1070.58 L299.39,1071.40 L300.59,1072.23 L301.79,1073.06 L302.99,1073.91 L304.18,1074.75 L305.36,1075.61 L306.55,1076.47 L307.72,1077.33 L308.90,1078.21 L310.07,1079.09 L311.23,1079.97 L312.38,1080.87 L313.54,1081.76 L314.68,1082.67 L315.81,1083.58 L316.94,1084.50 L318.06,1085.43 L319.18,1086.36 L320.28,1087.30 L321.38,1088.24 L322.46,1089.19 L323.54,1090.16 L324.62,1091.14 L325.68,1092.12 L326.74,1093.11 L327.80,1094.12 L328.84,1095.13 L329.88,1096.15 L330.92,1097.17 L331.95,1098.20 L332.98,1099.24 L334.00,1100.28 L335.02,1101.33 L336.04,1102.38 L337.05,1103.44 L338.06,1104.50 L339.06,1105.56 L340.07,1106.62 L341.07,1107.69 L342.07,1108.76 L343.06,1109.82 L344.06,1110.89 L345.05,1111.96 L346.05,1113.02 L347.04,1114.09 L348.04,1115.15 L349.03,1116.22 L350.01,1117.29 L350.99,1118.36 L351.97,1119.44 L352.94,1120.53 L353.91,1121.61 L354.88,1122.70 L355.84,1123.79 L356.80,1124.89 L357.76,1125.99 L358.72,1127.08 L359.68,1128.19 L360.63,1129.29 L361.58,1130.39 L362.54,1131.49 L363.49,1132.60 L364.44,1133.70 L365.39,1134.81 L366.34,1135.91 L367.30,1137.01 L368.25,1138.11 L369.21,1139.21 L370.17,1140.31 L371.13,1141.41 L372.09,1142.50 L373.06,1143.59 L374.02,1144.68 L375.00,1145.77 L375.97,1146.85 L376.94,1147.94 L377.91,1149.02 L378.89,1150.10 L379.86,1151.19 L380.84,1152.27 L381.81,1153.35 L382.79,1154.43 L383.76,1155.51 L384.74,1156.60 L385.72,1157.68 L386.70,1158.76 L387.67,1159.83 L388.65,1160.91 L389.63,1161.99 L390.61,1163.07 L391.59,1164.15 L392.57,1165.23 L393.56,1166.30 L394.54,1167.38 L395.52,1168.45 L396.50,1169.53 L397.49,1170.60 L398.47,1171.68 L399.46,1172.75 L400.44,1173.83 L401.43,1174.90 L402.41,1175.97 L403.40,1177.04 L404.38,1178.12 L405.37,1179.19 L406.36,1180.26 L407.35,1181.33 L408.34,1182.40 L409.32,1183.47 L410.31,1184.54 L411.31,1185.60 L412.31,1186.67 L413.31,1187.72 L414.32,1188.78 L415.33,1189.83 L416.35,1190.88 L417.36,1191.93 L418.38,1192.97 L419.40,1194.02 L420.42,1195.06 L421.44,1196.11 L422.46,1197.15 L423.48,1198.20 L424.50,1199.24 L425.51,1200.29 L426.52,1201.34 L427.53,1202.40 L428.53,1203.45 L429.53,1204.51 L430.53,1205.58 L431.51,1206.65 L432.49,1207.72 L433.47,1208.80 L434.43,1209.89 L435.39,1210.98 L436.34,1212.08 L437.28,1213.18 L438.21,1214.29 L439.13,1215.42 L440.04,1216.55 L440.94,1217.69 L441.84,1218.83 L442.73,1219.98 L443.61,1221.14 L444.49,1222.31 L445.36,1223.47 L446.23,1224.65 L447.09,1225.82 L447.95,1227.00 L448.81,1228.18 L449.67,1229.36 L450.53,1230.54 L451.38,1231.73 L452.24,1232.91 L453.10,1234.09 L453.96,1235.27 L454.82,1236.44 L455.68,1237.61 L456.55,1238.79 L457.42,1239.96 L458.28,1241.13 L459.14,1242.30 L460.01,1243.48 L460.87,1244.65 L461.73,1245.83 L462.59,1247.01 L463.45,1248.18 L464.30,1249.36 L465.16,1250.54 L466.02,1251.72 L466.87,1252.89 L467.73,1254.07 L468.58,1255.25 L469.44,1256.44 L470.29,1257.62 L471.14,1258.80 L471.99,1259.98 L472.84,1261.16 L473.69,1262.35 L474.54,1263.53 L475.39,1264.72 L476.24,1265.90 L477.08,1267.09 L477.93,1268.27 L478.77,1269.46 L479.61,1270.65 L480.46,1271.84 L481.30,1273.03 L482.14,1274.22 L482.98,1275.41 L483.82,1276.60 L484.65,1277.79 L485.49,1278.98 L486.33,1280.18 L487.16,1281.37 L488.00,1282.57 L488.83,1283.76 L489.66,1284.96 L490.49,1286.15 L491.32,1287.35 L492.15,1288.55 L492.98,1289.75 L493.80,1290.95 L494.63,1292.15 L495.45,1293.35 L496.28,1294.55 L497.10,1295.75 L497.92,1296.96 L498.75,1298.16 L499.57,1299.36 L500.39,1300.57 L501.20,1301.77 L502.02,1302.98 L502.83,1304.19 L503.64,1305.40 L504.44,1306.62 L505.25,1307.83 L506.05,1309.05 L506.86,1310.26 L507.66,1311.48 L508.47,1312.69 L509.27,1313.91 L510.08,1315.12 L510.88,1316.33 L511.69,1317.55 L512.50,1318.76 L513.32,1319.96 L514.13,1321.17 L514.95,1322.38 L515.77,1323.58 L516.60,1324.78 L517.43,1325.97 L518.27,1327.17 L519.11,1328.36 L519.95,1329.54 L520.79,1330.73 L521.64,1331.92 L522.49,1333.10 L523.34,1334.28 L524.20,1335.46 L525.05,1336.64 L525.91,1337.81 L526.78,1338.99 L527.64,1340.16 L528.51,1341.33 L529.38,1342.50 L530.25,1343.67 L531.12,1344.84 L532.00,1346.00" fill="none" stroke="#0000f0" stroke-width="3.9" stroke-linejoin="round" stroke-linecap="round"/>
<path d="M87.50,1295.20 L89.17,1295.20 L90.85,1295.20 L92.52,1295.20 L94.20,1295.20 L95.87,1295.20 L97.54,1295.19 L99.22,1295.19 L100.89,1295.19 L102.56,1295.19 L104.24,1295.18 L105.91,1295.18 L107.59,1295.18 L109.26,1295.17 L110.93,1295.17 L112.61,1295.16 L114.28,1295.16 L115.95,1295.15 L117.63,1295.15 L119.30,1295.14 L120.98,1295.14 L122.65,1295.13 L124.32,1295.12 L126.00,1295.12 L127.67,1295.11 L129.34,1295.10 L131.02,1295.10 L132.69,1295.09 L134.37,1295.08 L136.04,1295.07 L137.71,1295.07 L139.39,1295.06 L141.06,1295.05 L142.73,1295.04 L144.41,1295.03 L146.08,1295.02 L147.75,1295.01 L149.43,1295.00 L151.10,1294.99 L152.77,1294.98 L154.45,1294.97 L156.12,1294.95 L157.80,1294.93 L159.47,1294.91 L161.14,1294.88 L162.82,1294.86 L164.49,1294.83 L166.16,1294.80 L167.84,1294.77 L169.51,1294.73 L171.18,1294.70 L172.86,1294.66 L174.53,1294.63 L176.20,1294.59 L177.88,1294.55 L179.55,1294.51 L181.22,1294.47 L182.90,1294.43 L184.57,1294.39 L186.24,1294.34 L187.92,1294.30 L189.59,1294.26 L191.26,1294.22 L192.94,1294.17 L194.61,1294.13 L196.28,1294.09 L197.96,1294.05 L199.63,1294.01 L201.30,1293.97 L202.98,1293.93 L204.65,1293.89 L206.32,1293.85 L208.00,1293.80 L209.67,1293.76 L211.34,1293.72 L213.02,1293.68 L214.69,1293.63 L216.36,1293.59 L218.04,1293.54 L219.71,1293.50 L221.38,1293.45 L223.06,1293.41 L224.73,1293.36 L226.40,1293.31 L228.08,1293.26 L229.75,1293.21 L231.42,1293.16 L233.10,1293.11 L234.77,1293.06 L236.44,1293.01 L238.11,1292.95 L239.79,1292.90 L241.46,1292.84 L243.13,1292.79 L244.81,1292.73 L246.48,1292.67 L248.15,1292.61 L249.82,1292.55 L251.49,1292.49 L253.17,1292.42 L254.84,1292.36 L256.51,1292.30 L258.18,1292.23 L259.86,1292.16 L261.53,1292.09 L263.20,1292.02 L264.87,1291.95 L266.54,1291.88 L268.22,1291.81 L269.89,1291.73 L271.56,1291.66 L273.24,1291.58 L274.91,1291.50 L276.58,1291.42 L278.26,1291.34 L279.93,1291.26 L281.60,1291.17 L283.28,1291.09 L284.95,1291.00 L286.62,1290.91 L288.30,1290.82 L289.97,1290.72 L291.64,1290.63 L293.31,1290.53 L294.99,1290.43 L296.66,1290.33 L298.33,1290.23 L300.00,1290.12 L301.67,1290.01 L303.34,1289.90 L305.02,1289.79 L306.69,1289.68 L308.36,1289.56 L310.02,1289.44 L311.69,1289.32 L313.36,1289.20 L315.03,1289.07 L316.70,1288.94 L318.36,1288.81 L320.03,1288.67 L321.70,1288.53 L323.36,1288.39 L325.03,1288.25 L326.69,1288.10 L328.35,1287.95 L330.02,1287.80 L331.68,1287.63 L333.34,1287.45 L335.00,1287.26 L336.66,1287.05 L338.32,1286.82 L339.97,1286.59 L341.63,1286.34 L343.29,1286.09 L344.94,1285.82 L346.60,1285.56 L348.25,1285.29 L349.91,1285.01 L351.56,1284.74 L353.21,1284.46 L354.86,1284.19 L356.51,1283.92 L358.16,1283.64 L359.81,1283.36 L361.46,1283.08 L363.11,1282.79 L364.76,1282.50 L366.41,1282.20 L368.05,1281.90 L369.70,1281.59 L371.34,1281.28 L372.99,1280.97 L374.63,1280.65 L376.28,1280.34 L377.92,1280.02 L379.56,1279.69 L381.21,1279.37 L382.85,1279.04 L384.49,1278.71 L386.13,1278.38 L387.77,1278.05 L389.41,1277.72 L391.06,1277.39 L392.70,1277.07 L394.36,1276.76 L396.01,1276.44 L397.67,1276.13 L399.32,1275.81 L400.98,1275.49 L402.64,1275.17 L404.29,1274.85 L405.94,1274.52 L407.59,1274.18 L409.23,1273.83 L410.87,1273.47 L412.51,1273.10 L414.13,1272.72 L415.76,1272.33 L417.37,1271.91 L418.97,1271.49 L420.57,1271.04 L422.15,1270.57 L423.73,1270.09 L425.29,1269.56 L426.83,1268.95 L428.36,1268.29 L429.87,1267.58 L431.38,1266.83 L432.89,1266.07 L434.39,1265.29 L435.89,1264.53 L437.40,1263.79 L438.92,1263.08 L440.43,1262.37 L441.96,1261.67 L443.48,1260.96 L445.00,1260.26 L446.52,1259.55 L448.04,1258.84 L449.55,1258.11 L451.05,1257.38 L452.54,1256.62 L454.02,1255.85 L455.49,1255.06 L456.95,1254.24 L458.39,1253.40 L459.82,1252.53 L461.25,1251.65 L462.66,1250.74 L464.06,1249.83 L465.46,1248.90 L466.85,1247.97 L468.27,1247.04 L469.70,1246.12 L471.14,1245.18 L472.57,1244.23 L473.96,1243.26 L475.31,1242.26 L476.59,1241.21 L477.80,1240.12 L478.90,1238.97 L479.93,1237.75 L480.90,1236.43 L481.82,1235.06 L482.71,1233.62 L483.56,1232.16 L484.40,1230.66 L485.22,1229.16 L486.05,1227.66 L486.89,1226.19 L487.76,1224.74 L488.64,1223.32 L489.53,1221.90 L490.42,1220.48 L491.31,1219.05 L492.19,1217.63 L493.06,1216.19 L493.92,1214.75 L494.75,1213.30 L495.55,1211.84 L496.32,1210.36 L497.06,1208.87 L497.79,1207.36 L498.50,1205.84 L499.19,1204.31 L499.86,1202.77 L500.50,1201.22 L501.11,1199.66 L501.69,1198.10 L502.24,1196.52 L502.75,1194.93 L503.22,1193.33 L503.68,1191.72 L504.13,1190.10 L504.57,1188.48 L505.01,1186.86 L505.48,1185.25 L505.96,1183.65 L506.48,1182.06 L507.05,1180.49 L507.67,1178.93 L508.33,1177.38 L509.02,1175.84 L509.72,1174.30 L510.44,1172.77 L511.15,1171.24 L511.84,1169.70 L512.51,1168.16 L513.13,1166.61 L513.71,1165.05 L514.22,1163.48 L514.65,1161.89 L515.03,1160.29 L515.39,1158.67 L515.73,1157.05 L516.05,1155.41 L516.36,1153.77 L516.65,1152.12 L516.93,1150.47 L517.19,1148.81 L517.45,1147.14 L517.69,1145.48 L517.93,1143.81 L518.16,1142.14 L518.39,1140.47 L518.61,1138.80 L518.82,1137.14 L519.04,1135.48 L519.25,1133.82 L519.46,1132.16 L519.67,1130.50 L519.87,1128.84 L520.07,1127.17 L520.26,1125.51 L520.45,1123.85 L520.64,1122.18 L520.82,1120.52 L520.99,1118.85 L521.16,1117.19 L521.33,1115.52 L521.48,1113.85 L521.64,1112.18 L521.78,1110.52 L521.92,1108.85 L522.06,1107.18 L522.18,1105.51 L522.30,1103.85 L522.42,1102.18 L522.53,1100.51 L522.64,1098.84 L522.74,1097.17 L522.84,1095.50 L522.94,1093.82 L523.03,1092.15 L523.13,1090.48 L523.22,1088.81 L523.31,1087.14 L523.40,1085.47 L523.49,1083.79 L523.58,1082.12 L523.67,1080.45 L523.75,1078.78 L523.84,1077.11 L523.92,1075.44 L524.01,1073.77 L524.09,1072.09 L524.17,1070.42 L524.24,1068.75 L524.32,1067.08 L524.40,1065.41 L524.48,1063.73 L524.55,1062.06 L524.63,1060.39 L524.71,1058.72 L524.78,1057.05 L524.86,1055.37 L524.94,1053.70 L525.02,1052.03 L525.09,1050.36 L525.17,1048.69 L525.26,1047.01 L525.34,1045.34 L525.42,1043.67 L525.51,1042.00 L525.60,1040.33 L525.69,1038.66 L525.78,1036.99 L525.87,1035.31 L525.96,1033.64 L526.05,1031.97 L526.14,1030.30 L526.23,1028.63 L526.32,1026.96 L526.41,1025.29 L526.50,1023.61 L526.59,1021.94 L526.67,1020.27 L526.75,1018.60 L526.83,1016.93 L526.91,1015.26 L526.98,1013.58 L527.05,1011.91 L527.11,1010.24 L527.18,1008.57 L527.24,1006.89 L527.30,1005.22 L527.36,1003.55 L527.42,1001.88 L527.48,1000.20 L527.53,998.53 L527.59,996.86 L527.64,995.19 L527.69,993.51 L527.74,991.84 L527.79,990.17 L527.83,988.49 L527.88,986.82 L527.92,985.15 L527.96,983.47 L528.00,981.80" fill="none" stroke="#ee0000" stroke-width="3.9" stroke-linejoin="round" stroke-linecap="round"/>
</g>
<line x1="87.5" y1="1346" x2="87.5" y2="1335" stroke="#000" stroke-width="2.0"/>
<line x1="87.5" y1="981.8" x2="87.5" y2="992.8" stroke="#000" stroke-width="2.0"/>
<line x1="152.1" y1="1346" x2="152.1" y2="1335" stroke="#000" stroke-width="2.0"/>
<line x1="152.1" y1="981.8" x2="152.1" y2="992.8" stroke="#000" stroke-width="2.0"/>
<line x1="216.7" y1="1346" x2="216.7" y2="1335" stroke="#000" stroke-width="2.0"/>
<line x1="216.7" y1="981.8" x2="216.7" y2="992.8" stroke="#000" stroke-width="2.0"/>
<line x1="281.3" y1="1346" x2="281.3" y2="1335" stroke="#000" stroke-width="2.0"/>
<line x1="281.3" y1="981.8" x2="281.3" y2="992.8" stroke="#000" stroke-width="2.0"/>
<line x1="345.9" y1="1346" x2="345.9" y2="1335" stroke="#000" stroke-width="2.0"/>
<line x1="345.9" y1="981.8" x2="345.9" y2="992.8" stroke="#000" stroke-width="2.0"/>
<line x1="410.5" y1="1346" x2="410.5" y2="1335" stroke="#000" stroke-width="2.0"/>
<line x1="410.5" y1="981.8" x2="410.5" y2="992.8" stroke="#000" stroke-width="2.0"/>
<line x1="475.1" y1="1346" x2="475.1" y2="1335" stroke="#000" stroke-width="2.0"/>
<line x1="475.1" y1="981.8" x2="475.1" y2="992.8" stroke="#000" stroke-width="2.0"/>
<line x1="539.7" y1="1346" x2="539.7" y2="1335" stroke="#000" stroke-width="2.0"/>
<line x1="539.7" y1="981.8" x2="539.7" y2="992.8" stroke="#000" stroke-width="2.0"/>
<line x1="87.5" y1="1346.0" x2="98.5" y2="1346.0" stroke="#000" stroke-width="2.0"/>
<line x1="87.5" y1="1300.5" x2="98.5" y2="1300.5" stroke="#000" stroke-width="2.0"/>
<line x1="87.5" y1="1255.0" x2="98.5" y2="1255.0" stroke="#000" stroke-width="2.0"/>
<line x1="87.5" y1="1209.4" x2="98.5" y2="1209.4" stroke="#000" stroke-width="2.0"/>
<line x1="87.5" y1="1163.9" x2="98.5" y2="1163.9" stroke="#000" stroke-width="2.0"/>
<line x1="87.5" y1="1118.4" x2="98.5" y2="1118.4" stroke="#000" stroke-width="2.0"/>
<line x1="87.5" y1="1072.9" x2="98.5" y2="1072.9" stroke="#000" stroke-width="2.0"/>
<line x1="87.5" y1="1027.4" x2="98.5" y2="1027.4" stroke="#000" stroke-width="2.0"/>
<line x1="87.5" y1="981.8" x2="98.5" y2="981.8" stroke="#000" stroke-width="2.0"/>
<line x1="572.0" y1="1346.0" x2="561.0" y2="1346.0" stroke="#000" stroke-width="2.0"/>
<line x1="572.0" y1="1273.2" x2="561.0" y2="1273.2" stroke="#000" stroke-width="2.0"/>
<line x1="572.0" y1="1200.3" x2="561.0" y2="1200.3" stroke="#000" stroke-width="2.0"/>
<line x1="572.0" y1="1127.5" x2="561.0" y2="1127.5" stroke="#000" stroke-width="2.0"/>
<line x1="572.0" y1="1054.6" x2="561.0" y2="1054.6" stroke="#000" stroke-width="2.0"/>
<line x1="572.0" y1="981.8" x2="561.0" y2="981.8" stroke="#000" stroke-width="2.0"/>
<rect x="87.5" y="981.8" width="484.5" height="364.20000000000005" fill="none" stroke="#000" stroke-width="2.2"/>
<g clip-path="url(#clc)">
<circle cx="259.1" cy="1047.0" r="7.5" fill="url(#gb)"/>
<circle cx="255.7" cy="1044.5" r="3.4" fill="url(#hlb)"/>
<circle cx="355.8" cy="1123.9" r="7.5" fill="url(#gb)"/>
<circle cx="352.4" cy="1121.4" r="3.4" fill="url(#hlb)"/>
<circle cx="387.4" cy="1157.6" r="7.5" fill="url(#gb)"/>
<circle cx="384.0" cy="1155.1" r="3.4" fill="url(#hlb)"/>
<circle cx="424.0" cy="1195.2" r="7.5" fill="url(#gb)"/>
<circle cx="420.6" cy="1192.7" r="3.4" fill="url(#hlb)"/>
<circle cx="457.8" cy="1234.4" r="7.5" fill="url(#gb)"/>
<circle cx="454.4" cy="1231.9" r="3.4" fill="url(#hlb)"/>
<circle cx="479.2" cy="1270.0" r="7.5" fill="url(#gb)"/>
<circle cx="475.8" cy="1267.5" r="3.4" fill="url(#hlb)"/>
<circle cx="488.4" cy="1288.0" r="7.5" fill="url(#gb)"/>
<circle cx="485.0" cy="1285.5" r="3.4" fill="url(#hlb)"/>
<circle cx="500.8" cy="1308.0" r="7.5" fill="url(#gb)"/>
<circle cx="497.4" cy="1305.5" r="3.4" fill="url(#hlb)"/>
<circle cx="520.0" cy="1330.0" r="7.5" fill="url(#gb)"/>
<circle cx="516.6" cy="1327.5" r="3.4" fill="url(#hlb)"/>
<circle cx="530.0" cy="1338.0" r="7.5" fill="url(#gb)"/>
<circle cx="526.6" cy="1335.5" r="3.4" fill="url(#hlb)"/>
<circle cx="258.9" cy="1292.2" r="7.5" fill="url(#gr)"/>
<circle cx="255.5" cy="1289.7" r="3.4" fill="url(#hlr)"/>
<circle cx="356.0" cy="1284.0" r="7.5" fill="url(#gr)"/>
<circle cx="352.6" cy="1281.5" r="3.4" fill="url(#hlr)"/>
<circle cx="388.0" cy="1278.0" r="7.5" fill="url(#gr)"/>
<circle cx="384.6" cy="1275.5" r="3.4" fill="url(#hlr)"/>
<circle cx="424.0" cy="1270.0" r="7.5" fill="url(#gr)"/>
<circle cx="420.6" cy="1267.5" r="3.4" fill="url(#hlr)"/>
<circle cx="457.5" cy="1257.5" r="7.5" fill="url(#gr)"/>
<circle cx="454.1" cy="1255.0" r="3.4" fill="url(#hlr)"/>
<circle cx="479.5" cy="1239.7" r="7.5" fill="url(#gr)"/>
<circle cx="476.1" cy="1237.2" r="3.4" fill="url(#hlr)"/>
<circle cx="488.0" cy="1223.0" r="7.5" fill="url(#gr)"/>
<circle cx="484.6" cy="1220.5" r="3.4" fill="url(#hlr)"/>
<circle cx="500.4" cy="1193.8" r="7.5" fill="url(#gr)"/>
<circle cx="497.0" cy="1191.3" r="3.4" fill="url(#hlr)"/>
<circle cx="521.9" cy="1105.2" r="7.5" fill="url(#gr)"/>
<circle cx="518.5" cy="1102.7" r="3.4" fill="url(#hlr)"/>
<circle cx="529.7" cy="1006.8" r="7.5" fill="url(#gr)"/>
<circle cx="526.3" cy="1004.3" r="3.4" fill="url(#hlr)"/>
<circle cx="87.4" cy="1295.1" r="8.6" fill="url(#gg)"/>
<circle cx="83.1" cy="1291.9" r="4.6" fill="url(#hlg)"/>
</g>
<text x="81.20" y="1373.5" font-size="20">0</text>
<text x="146.30" y="1373.5" font-size="20">2</text>
<text x="210.90" y="1373.5" font-size="20">4</text>
<text x="275.50" y="1373.5" font-size="20">6</text>
<text x="340.10" y="1373.5" font-size="20">8</text>
<text x="399.40" y="1373.5" font-size="20" textLength="20.85" lengthAdjust="spacing">10</text>
<text x="464.50" y="1373.5" font-size="20" textLength="20.85" lengthAdjust="spacing">12</text>
<text x="528.60" y="1373.5" font-size="20" textLength="20.85" lengthAdjust="spacing">14</text>
<text x="60.60" y="1352.8" font-size="20">0</text>
<text x="41.40" y="1307.3" font-size="20" textLength="30.57" lengthAdjust="spacing">250</text>
<text x="41.40" y="1261.8" font-size="20" textLength="30.57" lengthAdjust="spacing">500</text>
<text x="41.40" y="1216.2" font-size="20" textLength="30.57" lengthAdjust="spacing">750</text>
<text x="31.80" y="1170.7" font-size="20" textLength="40.30" lengthAdjust="spacing">1000</text>
<text x="31.80" y="1125.2" font-size="20" textLength="40.30" lengthAdjust="spacing">1250</text>
<text x="31.80" y="1079.7" font-size="20" textLength="40.30" lengthAdjust="spacing">1500</text>
<text x="31.80" y="1034.2" font-size="20" textLength="40.30" lengthAdjust="spacing">1750</text>
<text x="31.80" y="988.6" font-size="20" textLength="40.30" lengthAdjust="spacing">2000</text>
<text x="582.80" y="1352.8" font-size="20" textLength="44.46" lengthAdjust="spacing">0.000</text>
<text x="582.80" y="1280.0" font-size="20" textLength="44.46" lengthAdjust="spacing">0.005</text>
<text x="582.80" y="1207.1" font-size="20" textLength="44.46" lengthAdjust="spacing">0.010</text>
<text x="582.80" y="1134.3" font-size="20" textLength="44.46" lengthAdjust="spacing">0.015</text>
<text x="582.80" y="1061.4" font-size="20" textLength="44.46" lengthAdjust="spacing">0.020</text>
<text x="582.80" y="988.6" font-size="20" textLength="44.46" lengthAdjust="spacing">0.025</text>
<text x="133.70" y="1022.6" font-size="28.5" font-weight="bold" textLength="33.34" lengthAdjust="spacing">(c)</text>
<text x="360.80" y="1035.6" font-size="26.5" textLength="64.33" lengthAdjust="spacing">PbMo</text>
<text x="428.40" y="1045.6" font-size="19.5">6</text>
<text x="440.70" y="1035.6" font-size="26.5">S</text>
<text x="458.40" y="1045.6" font-size="19.5">8</text>
<text x="360.30" y="1078.3" font-size="26.5" textLength="115.43" lengthAdjust="spacing">round wire</text>
<text x="361.30" y="1113.9" font-size="26.5" font-style="italic">a</text>
<text x="375.60" y="1113.9" font-size="26.5" textLength="128.92" lengthAdjust="spacing">=80,000 nm</text>
<g transform="translate(435.7,1133.7) scale(0.9870,0.9810)"><path d="M0.9,4.0 C1.2,0.9 3.3,-0.1 4.9,0.6 C6.4,1.3 7.0,3.4 7.6,6.0 L9.5,14.2 C10.3,18.0 11.2,20.0 12.6,20.0 C13.6,20.0 14.3,18.8 14.6,17.3" fill="none" stroke="#000" stroke-width="1.75" stroke-linecap="round"/><path d="M6.9,8.0 L8.2,9.9 L3.3,20.9 L0.3,20.9 Z" fill="#000" stroke="#000" stroke-width="0.4" stroke-linejoin="round"/></g>
<line x1="506.4" y1="1166.6" x2="433.7" y2="1166.6" stroke="#000" stroke-width="2.1"/>
<path d="M427.7,1166.6 L440.2,1162.3 L436.7,1166.6 L440.2,1170.8999999999999 Z" fill="#000"/>
<text x="520.70" y="1261.0" font-size="31" font-style="italic">J</text>
<text x="535.20" y="1270.2" font-size="22">c</text>
<line x1="485.9" y1="1280.2" x2="559.9" y2="1280.2" stroke="#000" stroke-width="2.1"/>
<path d="M565.9,1280.2 L553.4,1275.9 L556.9,1280.2 L553.4,1284.5 Z" fill="#000"/>
<g transform="translate(19.5,1338) rotate(-90)"><text x="-2.00" y="0" font-size="26.5" textLength="327.41" lengthAdjust="spacing">London penetration depth (nm)</text></g>
<g transform="translate(665.8,1285.6) rotate(-90)"><text x="-1.00" y="0" font-size="26.5" textLength="89.89" lengthAdjust="spacing">self-field</text></g>
<g transform="translate(665.8,1285.6) rotate(-90)"><text x="106.00" y="0" font-size="28" font-style="italic">J</text></g>
<g transform="translate(665.8,1285.6) rotate(-90)"><text x="118.00" y="9.2" font-size="18.5">c</text></g>
<g transform="translate(665.8,1285.6) rotate(-90)"><text x="134.30" y="0" font-size="26.5" textLength="88.07" lengthAdjust="spacing">(MA/cm</text></g>
<g transform="translate(665.8,1285.6) rotate(-90)"><text x="225.70" y="-8.4" font-size="18">2</text></g>
<g transform="translate(665.8,1285.6) rotate(-90)"><text x="238.10" y="0" font-size="26.5">)</text></g>
<text x="238.50" y="1415.3999999999999" font-size="27" textLength="169.58" lengthAdjust="spacing">temperature (K)</text>
<defs><clipPath id="cld"><rect x="-10" y="1427.3" width="700" height="405.6"/></clipPath></defs>
<g clip-path="url(#cld)">
<path d="M87.70,1499.87 L88.88,1500.73 L90.05,1501.60 L91.23,1502.47 L92.41,1503.33 L93.58,1504.19 L94.76,1505.06 L95.94,1505.92 L97.11,1506.78 L98.29,1507.64 L99.47,1508.50 L100.64,1509.36 L101.82,1510.22 L103.00,1511.08 L104.17,1511.93 L105.35,1512.79 L106.53,1513.65 L107.70,1514.50 L108.88,1515.36 L110.06,1516.21 L111.23,1517.07 L112.41,1517.92 L113.59,1518.78 L114.76,1519.63 L115.94,1520.48 L117.12,1521.34 L118.29,1522.19 L119.47,1523.05 L120.65,1523.90 L121.82,1524.75 L123.00,1525.60 L124.18,1526.46 L125.35,1527.31 L126.53,1528.16 L127.71,1529.02 L128.88,1529.87 L130.06,1530.73 L131.24,1531.58 L132.41,1532.43 L133.59,1533.29 L134.77,1534.14 L135.94,1535.00 L137.12,1535.85 L138.30,1536.71 L139.47,1537.57 L140.65,1538.42 L141.83,1539.28 L143.00,1540.14 L144.18,1541.00 L145.36,1541.86 L146.53,1542.72 L147.71,1543.58 L148.89,1544.44 L150.06,1545.30 L151.24,1546.16 L152.42,1547.03 L153.59,1547.89 L154.77,1548.76 L155.95,1549.62 L157.12,1550.49 L158.30,1551.36 L159.48,1552.23 L160.65,1553.10 L161.83,1553.97 L163.01,1554.84 L164.18,1555.72 L165.36,1556.59 L166.54,1557.47 L167.72,1558.35 L168.89,1559.22 L170.07,1560.10 L171.25,1560.99 L172.42,1561.87 L173.60,1562.75 L174.78,1563.64 L175.95,1564.53 L177.13,1565.41 L178.31,1566.31 L179.48,1567.20 L180.66,1568.09 L181.84,1568.99 L183.01,1569.88 L184.19,1570.78 L185.37,1571.68 L186.54,1572.58 L187.72,1573.49 L188.90,1574.39 L190.07,1575.30 L191.25,1576.21 L192.43,1577.12 L193.60,1578.04 L194.78,1578.95 L195.96,1579.87 L197.13,1580.79 L198.31,1581.71 L199.49,1582.64 L200.66,1583.56 L201.84,1584.49 L203.02,1585.42 L204.19,1586.36 L205.37,1587.29 L206.55,1588.23 L207.72,1589.17 L208.90,1590.11 L210.08,1591.06 L211.25,1592.00 L212.43,1592.95 L213.61,1593.90 L214.78,1594.86 L215.96,1595.81 L217.14,1596.77 L218.31,1597.73 L219.49,1598.69 L220.67,1599.66 L221.84,1600.62 L223.02,1601.59 L224.20,1602.56 L225.37,1603.53 L226.55,1604.50 L227.73,1605.48 L228.90,1606.45 L230.08,1607.43 L231.26,1608.41 L232.43,1609.39 L233.61,1610.38 L234.79,1611.36 L235.96,1612.35 L237.14,1613.33 L238.32,1614.32 L239.49,1615.31 L240.67,1616.31 L241.85,1617.30 L243.02,1618.29 L244.20,1619.29 L245.38,1620.29 L246.55,1621.29 L247.73,1622.29 L248.91,1623.29 L250.08,1624.29 L251.26,1625.29 L252.44,1626.30 L253.61,1627.30 L254.79,1628.31 L255.97,1629.32 L257.14,1630.32 L258.32,1631.33 L259.50,1632.34 L260.67,1633.35 L261.85,1634.37 L263.03,1635.38 L264.20,1636.39 L265.38,1637.41 L266.56,1638.42 L267.73,1639.44 L268.91,1640.45 L270.09,1641.47 L271.26,1642.49 L272.44,1643.51 L273.62,1644.52 L274.79,1645.54 L275.97,1646.56 L277.15,1647.58 L278.32,1648.60 L279.50,1649.62 L280.68,1650.64 L281.85,1651.67 L283.03,1652.69 L284.21,1653.71 L285.38,1654.73 L286.56,1655.75 L287.74,1656.77 L288.91,1657.80 L290.09,1658.82 L291.27,1659.84 L292.44,1660.86 L293.62,1661.89 L294.80,1662.91 L295.97,1663.93 L297.15,1664.95 L298.33,1665.97 L299.50,1666.99 L300.68,1668.02 L301.86,1669.04 L303.03,1670.06 L304.21,1671.08 L305.39,1672.10 L306.56,1673.12 L307.74,1674.14 L308.92,1675.16 L310.09,1676.18 L311.27,1677.19 L312.45,1678.21 L313.62,1679.23 L314.80,1680.24 L315.98,1681.26 L317.15,1682.28 L318.33,1683.29 L319.51,1684.30 L320.68,1685.32 L321.86,1686.33 L323.04,1687.34 L324.22,1688.35 L325.39,1689.36 L326.57,1690.37 L327.75,1691.38 L328.92,1692.38 L330.10,1693.39 L331.28,1694.40 L332.45,1695.40 L333.63,1696.40 L334.81,1697.40 L335.98,1698.40 L337.16,1699.40 L338.34,1700.40 L339.51,1701.40 L340.69,1702.40 L341.87,1703.39 L343.04,1704.38 L344.22,1705.38 L345.40,1706.37 L346.57,1707.35 L347.75,1708.34 L348.93,1709.33 L350.10,1710.31 L351.28,1711.30 L352.46,1712.28 L353.63,1713.26 L354.81,1714.24 L355.99,1715.21 L357.16,1716.19 L358.34,1717.16 L359.52,1718.13 L360.69,1719.10 L361.87,1720.07 L363.05,1721.04 L364.22,1722.00 L365.40,1722.96 L366.58,1723.92 L367.75,1724.88 L368.93,1725.84 L370.11,1726.79 L371.28,1727.74 L372.46,1728.69 L373.64,1729.64 L374.81,1730.59 L375.99,1731.53 L377.17,1732.47 L378.34,1733.41 L379.52,1734.35 L380.70,1735.29 L381.87,1736.22 L383.05,1737.15 L384.23,1738.08 L385.40,1739.00 L386.58,1739.92 L387.76,1740.84 L388.93,1741.76 L390.11,1742.68 L391.29,1743.59 L392.46,1744.50 L393.64,1745.41 L394.82,1746.31 L395.99,1747.22 L397.17,1748.11 L398.35,1749.01 L399.52,1749.91 L400.70,1750.80 L401.88,1751.68 L403.05,1752.57 L404.23,1753.45 L405.41,1754.33 L406.58,1755.21 L407.76,1756.08 L408.94,1756.95 L410.11,1757.82 L411.29,1758.68 L412.47,1759.54 L413.64,1760.40 L414.82,1761.26 L416.00,1762.11 L417.17,1762.96 L418.35,1763.80 L419.53,1764.64 L420.70,1765.48 L421.88,1766.32 L423.06,1767.15 L424.23,1767.98 L425.41,1768.80 L426.59,1769.62 L427.76,1770.44 L428.94,1771.26 L430.12,1772.07 L431.29,1772.87 L432.47,1773.68 L433.65,1774.48 L434.82,1775.27 L436.00,1776.07 L437.18,1776.85 L438.35,1777.64 L439.53,1778.42 L440.71,1779.20 L441.88,1779.97 L443.06,1780.74 L444.24,1781.50 L445.41,1782.27 L446.59,1783.02 L447.77,1783.78 L448.94,1784.53 L450.12,1785.27 L451.30,1786.01 L452.47,1786.75 L453.65,1787.48 L454.83,1788.21 L456.00,1788.93 L457.18,1789.65 L458.36,1790.37 L459.53,1791.08 L460.71,1791.79 L461.89,1792.49 L463.06,1793.19 L464.24,1793.88 L465.42,1794.57 L466.59,1795.25 L467.77,1795.93 L468.95,1796.61 L470.12,1797.28 L471.30,1797.94 L472.48,1798.61 L473.65,1799.26 L474.83,1799.91 L476.01,1800.56 L477.18,1801.20 L478.36,1801.84 L479.54,1802.47 L480.72,1803.10 L481.89,1803.72 L483.07,1804.34 L484.25,1804.95 L485.42,1805.56 L486.60,1806.16 L487.78,1806.76 L488.95,1807.35 L490.13,1807.94 L491.31,1808.52 L492.48,1809.10 L493.66,1809.67 L494.84,1810.24 L496.01,1810.80 L497.19,1811.35 L498.37,1811.91 L499.54,1812.45 L500.72,1812.99 L501.90,1813.52 L503.07,1814.05 L504.25,1814.58 L505.43,1815.09 L506.60,1815.61 L507.78,1816.11 L508.96,1816.61 L510.13,1817.11 L511.31,1817.60 L512.49,1818.08 L513.66,1818.56 L514.84,1819.03 L516.02,1819.50 L517.19,1819.96 L518.37,1820.41 L519.55,1820.86 L520.72,1821.30 L521.90,1821.74 L523.08,1822.17 L524.25,1822.60 L525.43,1823.02 L526.61,1823.43 L527.78,1823.83 L528.96,1824.23 L530.14,1824.63 L531.31,1825.02 L532.49,1825.40 L533.67,1825.77 L534.84,1826.14 L536.02,1826.51 L537.20,1826.86 L538.37,1827.21 L539.55,1827.56 L540.73,1827.89 L541.90,1828.22 L543.08,1828.55 L544.26,1828.87 L545.43,1829.18 L546.61,1829.48 L547.79,1829.78 L548.96,1830.07 L550.14,1830.35 L551.32,1830.63 L552.49,1830.90 L553.67,1831.17 L554.85,1831.42 L556.02,1831.67 L557.20,1831.92" fill="none" stroke="#0000f0" stroke-width="3.9" stroke-linejoin="round" stroke-linecap="round"/>
<path d="M87.50,1808.90 L89.10,1808.85 L90.69,1808.81 L92.28,1808.75 L93.88,1808.70 L95.47,1808.65 L97.07,1808.59 L98.66,1808.53 L100.26,1808.47 L101.85,1808.40 L103.45,1808.33 L105.04,1808.27 L106.63,1808.20 L108.23,1808.12 L109.82,1808.05 L111.41,1807.98 L113.01,1807.90 L114.60,1807.82 L116.19,1807.74 L117.79,1807.66 L119.38,1807.58 L120.97,1807.49 L122.57,1807.41 L124.16,1807.32 L125.75,1807.24 L127.34,1807.15 L128.94,1807.06 L130.53,1806.97 L132.12,1806.88 L133.71,1806.78 L135.31,1806.69 L136.90,1806.59 L138.49,1806.49 L140.08,1806.38 L141.68,1806.27 L143.27,1806.16 L144.86,1806.05 L146.45,1805.93 L148.04,1805.81 L149.63,1805.69 L151.23,1805.56 L152.81,1805.43 L154.40,1805.30 L155.99,1805.16 L157.58,1805.02 L159.17,1804.88 L160.75,1804.73 L162.34,1804.57 L163.92,1804.41 L165.51,1804.24 L167.09,1804.07 L168.68,1803.89 L170.26,1803.71 L171.84,1803.52 L173.43,1803.32 L175.01,1803.12 L176.59,1802.92 L178.17,1802.71 L179.76,1802.50 L181.34,1802.28 L182.92,1802.06 L184.50,1801.83 L186.08,1801.60 L187.66,1801.37 L189.24,1801.13 L190.82,1800.89 L192.40,1800.65 L193.97,1800.41 L195.55,1800.16 L197.13,1799.91 L198.71,1799.66 L200.28,1799.40 L201.86,1799.15 L203.43,1798.89 L205.01,1798.63 L206.58,1798.37 L208.16,1798.11 L209.73,1797.85 L211.30,1797.59 L212.88,1797.32 L214.45,1797.06 L216.02,1796.80 L217.59,1796.53 L219.16,1796.26 L220.73,1795.99 L222.31,1795.71 L223.88,1795.43 L225.45,1795.15 L227.02,1794.86 L228.59,1794.58 L230.16,1794.28 L231.72,1793.98 L233.29,1793.68 L234.86,1793.38 L236.43,1793.07 L237.99,1792.76 L239.56,1792.45 L241.12,1792.13 L242.69,1791.81 L244.25,1791.48 L245.81,1791.16 L247.37,1790.82 L248.93,1790.49 L250.49,1790.15 L252.05,1789.81 L253.61,1789.46 L255.16,1789.11 L256.72,1788.76 L258.27,1788.40 L259.82,1788.04 L261.37,1787.68 L262.92,1787.30 L264.46,1786.92 L266.01,1786.52 L267.55,1786.12 L269.09,1785.72 L270.63,1785.30 L272.17,1784.88 L273.71,1784.46 L275.25,1784.03 L276.79,1783.60 L278.32,1783.16 L279.86,1782.72 L281.39,1782.28 L282.92,1781.83 L284.46,1781.39 L285.99,1780.94 L287.52,1780.50 L289.06,1780.05 L290.59,1779.61 L292.12,1779.16 L293.65,1778.72 L295.19,1778.28 L296.72,1777.84 L298.25,1777.40 L299.79,1776.96 L301.32,1776.51 L302.85,1776.07 L304.38,1775.62 L305.92,1775.18 L307.45,1774.73 L308.98,1774.28 L310.51,1773.83 L312.04,1773.38 L313.57,1772.93 L315.10,1772.47 L316.63,1772.01 L318.16,1771.55 L319.69,1771.09 L321.22,1770.63 L322.74,1770.16 L324.27,1769.70 L325.79,1769.23 L327.32,1768.75 L328.84,1768.28 L330.36,1767.80 L331.88,1767.31 L333.40,1766.83 L334.92,1766.34 L336.43,1765.85 L337.95,1765.35 L339.46,1764.85 L340.97,1764.35 L342.48,1763.84 L343.99,1763.33 L345.50,1762.81 L347.01,1762.29 L348.52,1761.77 L350.03,1761.25 L351.54,1760.71 L353.04,1760.18 L354.54,1759.63 L356.04,1759.09 L357.54,1758.53 L359.04,1757.97 L360.53,1757.40 L362.01,1756.82 L363.49,1756.23 L364.97,1755.64 L366.44,1755.03 L367.91,1754.42 L369.37,1753.79 L370.83,1753.16 L372.29,1752.51 L373.74,1751.85 L375.19,1751.19 L376.64,1750.51 L378.08,1749.83 L379.53,1749.14 L380.96,1748.44 L382.40,1747.73 L383.83,1747.02 L385.26,1746.30 L386.68,1745.57 L388.10,1744.84 L389.52,1744.11 L390.93,1743.37 L392.34,1742.62 L393.74,1741.88 L395.15,1741.13 L396.56,1740.38 L397.97,1739.62 L399.39,1738.87 L400.80,1738.11 L402.22,1737.34 L403.63,1736.57 L405.04,1735.79 L406.44,1735.00 L407.83,1734.20 L409.22,1733.40 L410.60,1732.58 L411.97,1731.75 L413.33,1730.91 L414.67,1730.06 L416.00,1729.19 L417.31,1728.31 L418.61,1727.41 L419.89,1726.50 L421.15,1725.56 L422.39,1724.61 L423.63,1723.62 L424.85,1722.61 L426.06,1721.58 L427.25,1720.52 L428.44,1719.45 L429.62,1718.36 L430.78,1717.26 L431.94,1716.14 L433.09,1715.01 L434.22,1713.87 L435.35,1712.72 L436.47,1711.57 L437.59,1710.41 L438.69,1709.25 L439.79,1708.10 L440.88,1706.94 L441.96,1705.78 L443.03,1704.60 L444.10,1703.42 L445.15,1702.23 L446.20,1701.03 L447.24,1699.81 L448.27,1698.59 L449.29,1697.37 L450.31,1696.13 L451.32,1694.90 L452.32,1693.65 L453.32,1692.40 L454.32,1691.15 L455.31,1689.90 L456.30,1688.64 L457.28,1687.38 L458.26,1686.12 L459.24,1684.86 L460.22,1683.60 L461.19,1682.34 L462.16,1681.08 L463.13,1679.81 L464.09,1678.54 L465.05,1677.26 L466.01,1675.99 L466.96,1674.70 L467.91,1673.42 L468.85,1672.13 L469.79,1670.84 L470.73,1669.55 L471.66,1668.25 L472.59,1666.96 L473.52,1665.66 L474.44,1664.35 L475.36,1663.05 L476.27,1661.74 L477.18,1660.43 L478.08,1659.11 L478.98,1657.80 L479.88,1656.48 L480.78,1655.16 L481.68,1653.84 L482.59,1652.52 L483.50,1651.20 L484.41,1649.88 L485.32,1648.56 L486.22,1647.23 L487.11,1645.89 L487.98,1644.55 L488.84,1643.20 L489.68,1641.85 L490.50,1640.48 L491.29,1639.11 L492.05,1637.72 L492.79,1636.32 L493.49,1634.91 L494.18,1633.49 L494.86,1632.06 L495.53,1630.61 L496.19,1629.16 L496.83,1627.70 L497.46,1626.23 L498.08,1624.75 L498.69,1623.26 L499.29,1621.77 L499.87,1620.28 L500.44,1618.78 L501.00,1617.27 L501.54,1615.76 L502.08,1614.25 L502.59,1612.74 L503.10,1611.23 L503.59,1609.71 L504.07,1608.20 L504.53,1606.68 L504.99,1605.16 L505.44,1603.64 L505.87,1602.11 L506.30,1600.58 L506.72,1599.04 L507.12,1597.50 L507.53,1595.96 L507.92,1594.41 L508.31,1592.86 L508.69,1591.31 L509.07,1589.75 L509.44,1588.20 L509.81,1586.64 L510.17,1585.08 L510.53,1583.52 L510.88,1581.96 L511.23,1580.40 L511.58,1578.84 L511.93,1577.28 L512.28,1575.72 L512.62,1574.16 L512.97,1572.60 L513.31,1571.05 L513.66,1569.49 L514.00,1567.93 L514.34,1566.37 L514.68,1564.82 L515.01,1563.26 L515.34,1561.70 L515.68,1560.13 L516.00,1558.57 L516.33,1557.01 L516.65,1555.45 L516.97,1553.88 L517.29,1552.32 L517.60,1550.75 L517.91,1549.19 L518.22,1547.62 L518.52,1546.06 L518.82,1544.49 L519.11,1542.92 L519.41,1541.35 L519.69,1539.78 L519.98,1538.21 L520.26,1536.64 L520.53,1535.07 L520.80,1533.50 L521.07,1531.93 L521.33,1530.36 L521.58,1528.78 L521.83,1527.21 L522.08,1525.63 L522.32,1524.06 L522.56,1522.48 L522.79,1520.90 L523.02,1519.32 L523.25,1517.74 L523.48,1516.17 L523.71,1514.59 L523.94,1513.01 L524.17,1511.43 L524.39,1509.85 L524.62,1508.27 L524.85,1506.69 L525.08,1505.11 L525.31,1503.53 L525.54,1501.95 L525.78,1500.37 L526.02,1498.80 L526.27,1497.22 L526.51,1495.64 L526.76,1494.07 L527.01,1492.49 L527.26,1490.92 L527.51,1489.34 L527.76,1487.77 L528.01,1486.19 L528.26,1484.62 L528.52,1483.04 L528.77,1481.47 L529.03,1479.89 L529.28,1478.32 L529.54,1476.74 L529.80,1475.17 L530.06,1473.60 L530.32,1472.02 L530.58,1470.45 L530.84,1468.87 L531.10,1467.30" fill="none" stroke="#ee0000" stroke-width="3.9" stroke-linejoin="round" stroke-linecap="round"/>
</g>
<line x1="87.5" y1="1831.8" x2="87.5" y2="1820.8" stroke="#000" stroke-width="2.0"/>
<line x1="87.5" y1="1467.3" x2="87.5" y2="1478.3" stroke="#000" stroke-width="2.0"/>
<line x1="189.5" y1="1831.8" x2="189.5" y2="1820.8" stroke="#000" stroke-width="2.0"/>
<line x1="189.5" y1="1467.3" x2="189.5" y2="1478.3" stroke="#000" stroke-width="2.0"/>
<line x1="291.5" y1="1831.8" x2="291.5" y2="1820.8" stroke="#000" stroke-width="2.0"/>
<line x1="291.5" y1="1467.3" x2="291.5" y2="1478.3" stroke="#000" stroke-width="2.0"/>
<line x1="393.5" y1="1831.8" x2="393.5" y2="1820.8" stroke="#000" stroke-width="2.0"/>
<line x1="393.5" y1="1467.3" x2="393.5" y2="1478.3" stroke="#000" stroke-width="2.0"/>
<line x1="495.5" y1="1831.8" x2="495.5" y2="1820.8" stroke="#000" stroke-width="2.0"/>
<line x1="495.5" y1="1467.3" x2="495.5" y2="1478.3" stroke="#000" stroke-width="2.0"/>
<line x1="87.5" y1="1831.8" x2="98.5" y2="1831.8" stroke="#000" stroke-width="2.0"/>
<line x1="87.5" y1="1740.7" x2="98.5" y2="1740.7" stroke="#000" stroke-width="2.0"/>
<line x1="87.5" y1="1649.6" x2="98.5" y2="1649.6" stroke="#000" stroke-width="2.0"/>
<line x1="87.5" y1="1558.4" x2="98.5" y2="1558.4" stroke="#000" stroke-width="2.0"/>
<line x1="87.5" y1="1467.3" x2="98.5" y2="1467.3" stroke="#000" stroke-width="2.0"/>
<line x1="572.0" y1="1831.8" x2="561.0" y2="1831.8" stroke="#000" stroke-width="2.0"/>
<line x1="572.0" y1="1779.7" x2="561.0" y2="1779.7" stroke="#000" stroke-width="2.0"/>
<line x1="572.0" y1="1727.7" x2="561.0" y2="1727.7" stroke="#000" stroke-width="2.0"/>
<line x1="572.0" y1="1675.6" x2="561.0" y2="1675.6" stroke="#000" stroke-width="2.0"/>
<line x1="572.0" y1="1623.5" x2="561.0" y2="1623.5" stroke="#000" stroke-width="2.0"/>
<line x1="572.0" y1="1571.4" x2="561.0" y2="1571.4" stroke="#000" stroke-width="2.0"/>
<line x1="572.0" y1="1519.4" x2="561.0" y2="1519.4" stroke="#000" stroke-width="2.0"/>
<line x1="572.0" y1="1467.3" x2="561.0" y2="1467.3" stroke="#000" stroke-width="2.0"/>
<rect x="87.5" y="1467.3" width="484.5" height="364.5" fill="none" stroke="#000" stroke-width="2.2"/>
<g clip-path="url(#cld)">
<circle cx="112.8" cy="1518.9" r="7.5" fill="url(#gb)"/>
<circle cx="109.4" cy="1516.4" r="3.4" fill="url(#hlb)"/>
<circle cx="118.3" cy="1522.6" r="7.5" fill="url(#gb)"/>
<circle cx="114.9" cy="1520.1" r="3.4" fill="url(#hlb)"/>
<circle cx="128.7" cy="1525.6" r="7.5" fill="url(#gb)"/>
<circle cx="125.3" cy="1523.1" r="3.4" fill="url(#hlb)"/>
<circle cx="138.9" cy="1533.9" r="7.5" fill="url(#gb)"/>
<circle cx="135.5" cy="1531.4" r="3.4" fill="url(#hlb)"/>
<circle cx="138.7" cy="1545.4" r="7.5" fill="url(#gb)"/>
<circle cx="135.3" cy="1542.9" r="3.4" fill="url(#hlb)"/>
<circle cx="164.2" cy="1545.8" r="7.5" fill="url(#gb)"/>
<circle cx="160.8" cy="1543.3" r="3.4" fill="url(#hlb)"/>
<circle cx="191.7" cy="1572.6" r="7.5" fill="url(#gb)"/>
<circle cx="188.3" cy="1570.1" r="3.4" fill="url(#hlb)"/>
<circle cx="195.4" cy="1570.0" r="7.5" fill="url(#gb)"/>
<circle cx="192.0" cy="1567.5" r="3.4" fill="url(#hlb)"/>
<circle cx="214.8" cy="1588.1" r="7.5" fill="url(#gb)"/>
<circle cx="211.4" cy="1585.6" r="3.4" fill="url(#hlb)"/>
<circle cx="291.7" cy="1662.4" r="7.5" fill="url(#gb)"/>
<circle cx="288.3" cy="1659.9" r="3.4" fill="url(#hlb)"/>
<circle cx="341.8" cy="1706.0" r="7.5" fill="url(#gb)"/>
<circle cx="338.4" cy="1703.5" r="3.4" fill="url(#hlb)"/>
<circle cx="393.5" cy="1744.6" r="7.5" fill="url(#gb)"/>
<circle cx="390.1" cy="1742.1" r="3.4" fill="url(#hlb)"/>
<circle cx="420.5" cy="1764.1" r="7.5" fill="url(#gb)"/>
<circle cx="417.1" cy="1761.6" r="3.4" fill="url(#hlb)"/>
<circle cx="480.6" cy="1802.4" r="7.5" fill="url(#gb)"/>
<circle cx="477.2" cy="1799.9" r="3.4" fill="url(#hlb)"/>
<circle cx="497.2" cy="1810.0" r="7.5" fill="url(#gb)"/>
<circle cx="493.8" cy="1807.5" r="3.4" fill="url(#hlb)"/>
<circle cx="519.8" cy="1822.2" r="7.5" fill="url(#gb)"/>
<circle cx="516.4" cy="1819.7" r="3.4" fill="url(#hlb)"/>
<circle cx="548.0" cy="1830.8" r="7.5" fill="url(#gb)"/>
<circle cx="544.6" cy="1828.3" r="3.4" fill="url(#hlb)"/>
<circle cx="112.8" cy="1808.0" r="7.5" fill="url(#gr)"/>
<circle cx="109.4" cy="1805.5" r="3.4" fill="url(#hlr)"/>
<circle cx="118.0" cy="1807.2" r="7.5" fill="url(#gr)"/>
<circle cx="114.6" cy="1804.7" r="3.4" fill="url(#hlr)"/>
<circle cx="128.0" cy="1806.4" r="7.5" fill="url(#gr)"/>
<circle cx="124.6" cy="1803.9" r="3.4" fill="url(#hlr)"/>
<circle cx="138.0" cy="1805.6" r="7.5" fill="url(#gr)"/>
<circle cx="134.6" cy="1803.1" r="3.4" fill="url(#hlr)"/>
<circle cx="140.0" cy="1804.8" r="7.5" fill="url(#gr)"/>
<circle cx="136.6" cy="1802.3" r="3.4" fill="url(#hlr)"/>
<circle cx="164.0" cy="1804.0" r="7.5" fill="url(#gr)"/>
<circle cx="160.6" cy="1801.5" r="3.4" fill="url(#hlr)"/>
<circle cx="191.2" cy="1800.0" r="7.5" fill="url(#gr)"/>
<circle cx="187.8" cy="1797.5" r="3.4" fill="url(#hlr)"/>
<circle cx="196.0" cy="1800.0" r="7.5" fill="url(#gr)"/>
<circle cx="192.6" cy="1797.5" r="3.4" fill="url(#hlr)"/>
<circle cx="216.0" cy="1796.8" r="7.5" fill="url(#gr)"/>
<circle cx="212.6" cy="1794.3" r="3.4" fill="url(#hlr)"/>
<circle cx="292.0" cy="1779.2" r="7.5" fill="url(#gr)"/>
<circle cx="288.6" cy="1776.7" r="3.4" fill="url(#hlr)"/>
<circle cx="341.8" cy="1763.0" r="7.5" fill="url(#gr)"/>
<circle cx="338.4" cy="1760.5" r="3.4" fill="url(#hlr)"/>
<circle cx="393.5" cy="1742.5" r="7.5" fill="url(#gr)"/>
<circle cx="390.1" cy="1740.0" r="3.4" fill="url(#hlr)"/>
<circle cx="420.5" cy="1725.9" r="7.5" fill="url(#gr)"/>
<circle cx="417.1" cy="1723.4" r="3.4" fill="url(#hlr)"/>
<circle cx="481.2" cy="1655.6" r="7.5" fill="url(#gr)"/>
<circle cx="477.8" cy="1653.1" r="3.4" fill="url(#hlr)"/>
<circle cx="496.7" cy="1624.8" r="7.5" fill="url(#gr)"/>
<circle cx="493.3" cy="1622.3" r="3.4" fill="url(#hlr)"/>
<circle cx="497.8" cy="1631.1" r="7.5" fill="url(#gr)"/>
<circle cx="494.4" cy="1628.6" r="3.4" fill="url(#hlr)"/>
<circle cx="518.9" cy="1507.4" r="7.5" fill="url(#gr)"/>
<circle cx="515.5" cy="1504.9" r="3.4" fill="url(#hlr)"/>
<circle cx="87.4" cy="1808.4" r="8.6" fill="url(#gg)"/>
<circle cx="83.1" cy="1805.2" r="4.6" fill="url(#hlg)"/>
</g>
<text x="81.20" y="1859.3" font-size="20">0</text>
<text x="178.40" y="1859.3" font-size="20" textLength="20.85" lengthAdjust="spacing">20</text>
<text x="280.90" y="1859.3" font-size="20" textLength="20.85" lengthAdjust="spacing">40</text>
<text x="382.40" y="1859.3" font-size="20" textLength="20.85" lengthAdjust="spacing">60</text>
<text x="484.40" y="1859.3" font-size="20" textLength="20.85" lengthAdjust="spacing">80</text>
<text x="41.40" y="1838.6" font-size="20" textLength="30.57" lengthAdjust="spacing">100</text>
<text x="41.40" y="1747.5" font-size="20" textLength="30.57" lengthAdjust="spacing">200</text>
<text x="41.40" y="1656.4" font-size="20" textLength="30.57" lengthAdjust="spacing">300</text>
<text x="41.40" y="1565.2" font-size="20" textLength="30.57" lengthAdjust="spacing">400</text>
<text x="41.40" y="1474.1" font-size="20" textLength="30.57" lengthAdjust="spacing">500</text>
<text x="582.80" y="1838.6" font-size="20">0</text>
<text x="582.80" y="1786.5" font-size="20">5</text>
<text x="582.80" y="1734.5" font-size="20" textLength="20.85" lengthAdjust="spacing">10</text>
<text x="582.80" y="1682.4" font-size="20" textLength="20.85" lengthAdjust="spacing">15</text>
<text x="582.80" y="1630.3" font-size="20" textLength="20.85" lengthAdjust="spacing">20</text>
<text x="582.80" y="1578.2" font-size="20" textLength="20.85" lengthAdjust="spacing">25</text>
<text x="582.80" y="1526.2" font-size="20" textLength="20.85" lengthAdjust="spacing">30</text>
<text x="582.80" y="1474.1" font-size="20" textLength="20.85" lengthAdjust="spacing">35</text>
<text x="133.70" y="1508.0" font-size="28.5" font-weight="bold" textLength="36.09" lengthAdjust="spacing">(d)</text>
<text x="275.10" y="1521.8" font-size="26.5" textLength="98.48" lengthAdjust="spacing">(Y,Dy)Ba</text>
<text x="381.10" y="1530.6" font-size="19.5">2</text>
<text x="392.70" y="1521.8" font-size="26.5" textLength="33.59" lengthAdjust="spacing">Cu</text>
<text x="425.90" y="1530.6" font-size="19.5">3</text>
<text x="438.00" y="1521.8" font-size="26.5">O</text>
<text x="457.60" y="1530.6" font-size="19.5">7</text>
<text x="277.10" y="1564.9" font-size="26.5" textLength="36.82" lengthAdjust="spacing">film</text>
<text x="277.10" y="1599.6" font-size="26.5" font-style="italic">b</text>
<text x="290.90" y="1599.6" font-size="26.5" textLength="94.78" lengthAdjust="spacing">=425 nm</text>
<g transform="translate(401.3,1619.1) scale(1.0195,0.9762)"><path d="M0.9,4.0 C1.2,0.9 3.3,-0.1 4.9,0.6 C6.4,1.3 7.0,3.4 7.6,6.0 L9.5,14.2 C10.3,18.0 11.2,20.0 12.6,20.0 C13.6,20.0 14.3,18.8 14.6,17.3" fill="none" stroke="#000" stroke-width="1.75" stroke-linecap="round"/><path d="M6.9,8.0 L8.2,9.9 L3.3,20.9 L0.3,20.9 Z" fill="#000" stroke="#000" stroke-width="0.4" stroke-linejoin="round"/></g>
<line x1="472.3" y1="1652" x2="399.7" y2="1652" stroke="#000" stroke-width="2.1"/>
<path d="M393.7,1652 L406.2,1647.7 L402.7,1652 L406.2,1656.3 Z" fill="#000"/>
<text x="490.00" y="1755.6" font-size="31" font-style="italic">J</text>
<text x="504.00" y="1764.2" font-size="22">c</text>
<line x1="440.1" y1="1771.9" x2="512.9" y2="1771.9" stroke="#000" stroke-width="2.1"/>
<path d="M518.9,1771.9 L506.4,1767.6000000000001 L509.9,1771.9 L506.4,1776.2 Z" fill="#000"/>
<g transform="translate(31.2,1825) rotate(-90)"><text x="-2.00" y="0" font-size="26.5" textLength="327.41" lengthAdjust="spacing">London penetration depth (nm)</text></g>
<g transform="translate(638.3,1771.1) rotate(-90)"><text x="-1.00" y="0" font-size="26.5" textLength="89.89" lengthAdjust="spacing">self-field</text></g>
<g transform="translate(638.3,1771.1) rotate(-90)"><text x="106.00" y="0" font-size="28" font-style="italic">J</text></g>
<g transform="translate(638.3,1771.1) rotate(-90)"><text x="118.00" y="9.2" font-size="18.5">c</text></g>
<g transform="translate(638.3,1771.1) rotate(-90)"><text x="134.30" y="0" font-size="26.5" textLength="88.07" lengthAdjust="spacing">(MA/cm</text></g>
<g transform="translate(638.3,1771.1) rotate(-90)"><text x="225.70" y="-8.4" font-size="18">2</text></g>
<g transform="translate(638.3,1771.1) rotate(-90)"><text x="238.10" y="0" font-size="26.5">)</text></g>
<text x="238.50" y="1901.0" font-size="27" textLength="169.58" lengthAdjust="spacing">temperature (K)</text>
</svg>
</body></html>
